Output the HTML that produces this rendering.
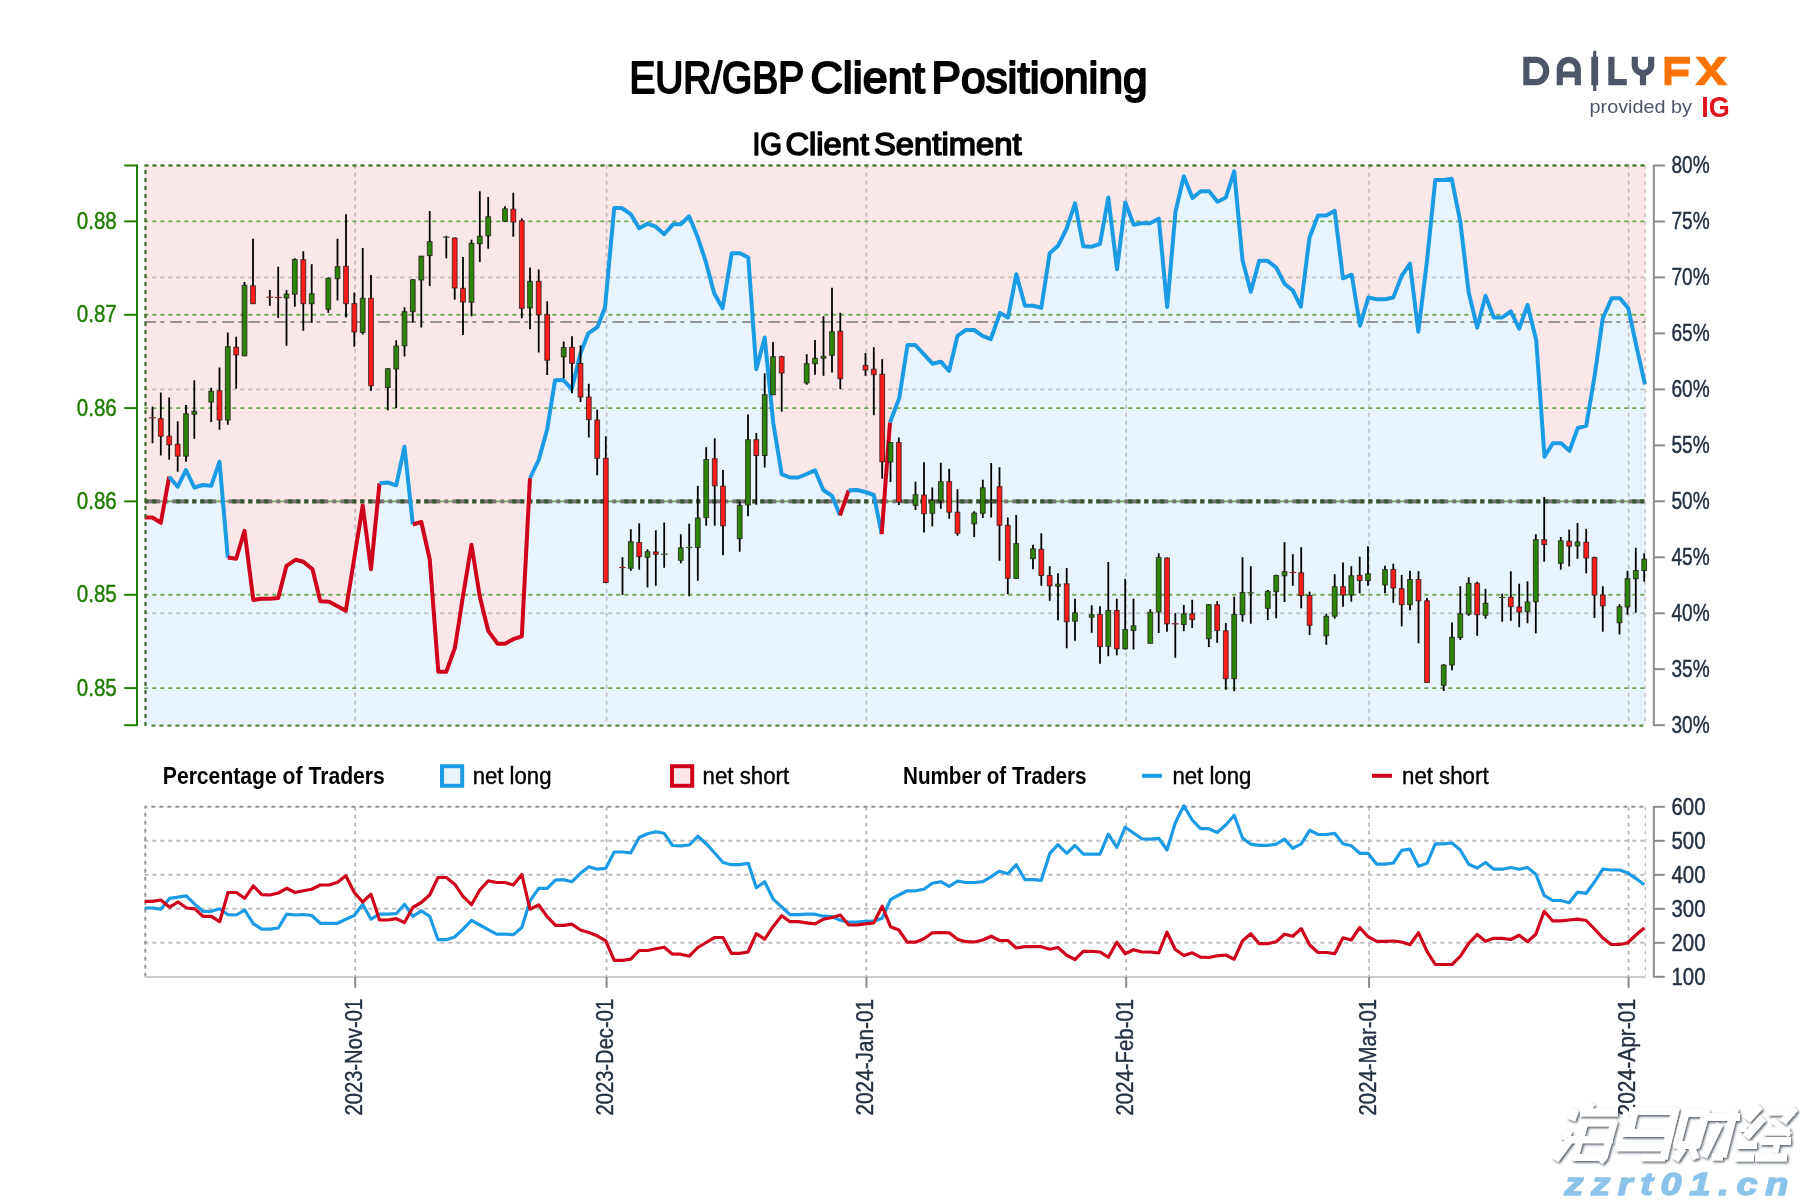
<!DOCTYPE html>
<html><head><meta charset="utf-8"><title>EUR/GBP Client Positioning</title>
<style>html,body{margin:0;padding:0;background:#fff;}body{width:1800px;height:1200px;overflow:hidden;}svg{display:block;will-change:transform;}text{font-family:"Liberation Sans",sans-serif;}</style>
</head><body>
<svg width="1800" height="1200" viewBox="0 0 1800 1200">
<rect width="1800" height="1200" fill="#fff"/>
<text x="629.5" y="93.2" font-size="43.5" fill="#000" stroke="#000" stroke-width="2" stroke-linejoin="round" textLength="174.5" lengthAdjust="spacingAndGlyphs">EUR/GBP</text>
<text x="810.5" y="93.2" font-size="43.5" fill="#000" stroke="#000" stroke-width="2" stroke-linejoin="round" textLength="114.5" lengthAdjust="spacingAndGlyphs">Client</text>
<text x="931.5" y="93.2" font-size="43.5" fill="#000" stroke="#000" stroke-width="2" stroke-linejoin="round" textLength="216" lengthAdjust="spacingAndGlyphs">Positioning</text>
<text x="752.5" y="155.4" font-size="31.3" fill="#000" stroke="#000" stroke-width="1.5" stroke-linejoin="round" textLength="29.5" lengthAdjust="spacingAndGlyphs">IG</text>
<text x="785.5" y="155.4" font-size="31.3" fill="#000" stroke="#000" stroke-width="1.5" stroke-linejoin="round" textLength="83.5" lengthAdjust="spacingAndGlyphs">Client</text>
<text x="874" y="155.4" font-size="31.3" fill="#000" stroke="#000" stroke-width="1.5" stroke-linejoin="round" textLength="147.5" lengthAdjust="spacingAndGlyphs">Sentiment</text>
<rect x="144.3" y="165.5" width="1501.0" height="559.1" fill="#fce7e8"/>
<polygon points="145.3,725.2 144.7,517.5 152.5,517.5 160.8,522.8 169.2,476.7 177.7,486.7 186,470 194.3,487.5 202.7,485 211.2,485.8 219.5,461.7 227.8,557.5 236.2,558.7 244.5,530.8 253.3,600 261.3,598.7 269.8,598.7 278.2,598 286.5,565.8 295.8,559.7 303.3,561.7 312.5,569.2 320.3,601.3 329.2,601.7 337.5,606.2 345.8,610.8 354.3,558 362.7,505.5 371,569.2 379.5,483.3 387.8,482.5 396.2,485.3 404.5,446.7 412.8,524.5 421.3,522 429.7,559.2 438.3,671.7 446.3,671.7 455,647.5 463,596 471.5,544.7 479.8,596.7 488.2,630.8 497.5,643.7 505,643.7 513.3,639.2 521.8,636.3 530,478 538.7,460 547.2,429.2 555,380.3 563.3,380 571.7,389.2 580.5,353.3 588.3,333.3 597.5,327 605,307.5 614.2,208 621.7,208 630.8,214.2 639.2,228.3 647.5,223.7 655.8,226.7 664.2,234.2 673.3,224.2 680.8,224.2 689.2,216.3 697.5,236.7 705.8,261.7 714.2,293.3 722.5,308.3 731.7,253.3 740,253.3 748.3,257.5 756.3,369.2 764.7,337.5 773.3,423.3 781.7,474.2 790,477.5 798.3,477.5 806.7,474 815,470.3 823.3,490 832,495.8 840,515.3 848.7,490.3 857,490 865.5,492 873.8,495 881.7,534.2 890,422.5 899.2,398.3 907.5,345 915.3,345 924,354.3 932.5,363.7 940.8,361.7 949.2,370.8 957.5,335.8 965.8,330 974.2,330 982.5,335.8 990.8,339.2 1000,313 1008,317.5 1016.3,274.2 1025,305.8 1033.3,305.8 1041.3,307.8 1049.7,253.3 1058,245.8 1066.7,228.3 1075,203.3 1083.3,246.3 1091.7,246.7 1100,243.8 1108.3,197.5 1117,269.2 1125.3,202.5 1133.7,224.7 1141.7,223.3 1150,223.3 1158.8,218.7 1167.2,307 1175.5,211.7 1183.8,176.3 1192.5,198 1200.8,191.2 1209.2,191.2 1217.5,201.7 1225.8,197.5 1234.2,171.3 1242.5,260 1250.8,291.7 1259.2,260.8 1267.5,260.8 1276.2,267.5 1284.5,283.7 1292.8,290.5 1300.8,306.7 1309.5,237.5 1318,215.5 1326.3,215.5 1334.7,210.8 1343,278.3 1351.7,274.7 1360,325.8 1368.3,297.5 1376.7,299.2 1385,299.2 1393.3,297.5 1401.7,275.8 1410,263.7 1418.3,331.7 1427,260.8 1435.3,180 1443.7,180 1451.7,178.8 1460.3,221.7 1468.7,292.5 1477.2,327.5 1485.5,295.8 1493.8,317.5 1502.2,317.5 1510.8,311.3 1519.2,328.7 1527.5,305 1536.2,340 1544.5,456.7 1552.8,443.3 1561.2,443.3 1569.5,450.8 1577.8,428 1586.2,425.8 1594.5,376.7 1602.8,318.3 1611.7,298.3 1620,298.3 1628.3,308.3 1636.7,347.5 1645,384.2 1645.3,384.2 1645.3,725.2" fill="#e8f4fd"/>
<line x1="144.3" x2="1645.3" y1="277.4" y2="277.4" stroke="#808080" stroke-width="1.9" stroke-dasharray="4 4" stroke-opacity="0.4"/>
<line x1="144.3" x2="1645.3" y1="389.4" y2="389.4" stroke="#808080" stroke-width="1.9" stroke-dasharray="4 4" stroke-opacity="0.4"/>
<line x1="144.3" x2="1645.3" y1="613.3" y2="613.3" stroke="#808080" stroke-width="1.9" stroke-dasharray="4 4" stroke-opacity="0.4"/>
<line x1="144.3" x2="1645.3" y1="221.4" y2="221.4" stroke="#6ca950" stroke-width="1.9" stroke-dasharray="4 4"/>
<line x1="144.3" x2="1645.3" y1="314.8" y2="314.8" stroke="#6ca950" stroke-width="1.9" stroke-dasharray="4 4"/>
<line x1="144.3" x2="1645.3" y1="408.1" y2="408.1" stroke="#6ca950" stroke-width="1.9" stroke-dasharray="4 4"/>
<line x1="144.3" x2="1645.3" y1="501.4" y2="501.4" stroke="#6ca950" stroke-width="1.9" stroke-dasharray="4 4"/>
<line x1="144.3" x2="1645.3" y1="594.8" y2="594.8" stroke="#6ca950" stroke-width="1.9" stroke-dasharray="4 4"/>
<line x1="144.3" x2="1645.3" y1="688.1" y2="688.1" stroke="#6ca950" stroke-width="1.9" stroke-dasharray="4 4"/>
<line x1="355.2" x2="355.2" y1="164.7" y2="725.2" stroke="#808080" stroke-opacity="0.45" stroke-width="1.7" stroke-dasharray="4 4"/>
<line x1="355.2" x2="355.2" y1="806.8" y2="976.8" stroke="#b6b6b6" stroke-width="1.7" stroke-dasharray="3.6 4.4"/>
<line x1="606.6" x2="606.6" y1="164.7" y2="725.2" stroke="#808080" stroke-opacity="0.45" stroke-width="1.7" stroke-dasharray="4 4"/>
<line x1="606.6" x2="606.6" y1="806.8" y2="976.8" stroke="#b6b6b6" stroke-width="1.7" stroke-dasharray="3.6 4.4"/>
<line x1="866.4" x2="866.4" y1="164.7" y2="725.2" stroke="#808080" stroke-opacity="0.45" stroke-width="1.7" stroke-dasharray="4 4"/>
<line x1="866.4" x2="866.4" y1="806.8" y2="976.8" stroke="#b6b6b6" stroke-width="1.7" stroke-dasharray="3.6 4.4"/>
<line x1="1126.2" x2="1126.2" y1="164.7" y2="725.2" stroke="#808080" stroke-opacity="0.45" stroke-width="1.7" stroke-dasharray="4 4"/>
<line x1="1126.2" x2="1126.2" y1="806.8" y2="976.8" stroke="#b6b6b6" stroke-width="1.7" stroke-dasharray="3.6 4.4"/>
<line x1="1369.1" x2="1369.1" y1="164.7" y2="725.2" stroke="#808080" stroke-opacity="0.45" stroke-width="1.7" stroke-dasharray="4 4"/>
<line x1="1369.1" x2="1369.1" y1="806.8" y2="976.8" stroke="#b6b6b6" stroke-width="1.7" stroke-dasharray="3.6 4.4"/>
<line x1="1628.6" x2="1628.6" y1="164.7" y2="725.2" stroke="#808080" stroke-opacity="0.45" stroke-width="1.7" stroke-dasharray="4 4"/>
<line x1="1628.6" x2="1628.6" y1="806.8" y2="976.8" stroke="#b6b6b6" stroke-width="1.7" stroke-dasharray="3.6 4.4"/>
<line x1="144.3" x2="1645.3" y1="322" y2="322" stroke="#7a7678" stroke-width="1.5" stroke-dasharray="11.7 4.3 4 6"/>
<rect x="144.80" y="499.4" width="15.50" height="4" fill="#7b7375"/>
<rect x="164.30" y="499.4" width="4.00" height="4" fill="#7b7375"/>
<rect x="172.30" y="499.4" width="16.00" height="4" fill="#7b7375"/>
<rect x="192.30" y="499.4" width="4.00" height="4" fill="#7b7375"/>
<rect x="200.30" y="499.4" width="16.00" height="4" fill="#7b7375"/>
<rect x="220.30" y="499.4" width="4.00" height="4" fill="#7b7375"/>
<rect x="228.30" y="499.4" width="16.00" height="4" fill="#7b7375"/>
<rect x="248.30" y="499.4" width="4.00" height="4" fill="#7b7375"/>
<rect x="256.30" y="499.4" width="16.00" height="4" fill="#7b7375"/>
<rect x="276.30" y="499.4" width="4.00" height="4" fill="#7b7375"/>
<rect x="284.30" y="499.4" width="16.00" height="4" fill="#7b7375"/>
<rect x="304.30" y="499.4" width="4.00" height="4" fill="#7b7375"/>
<rect x="312.30" y="499.4" width="16.00" height="4" fill="#7b7375"/>
<rect x="332.30" y="499.4" width="4.00" height="4" fill="#7b7375"/>
<rect x="340.30" y="499.4" width="16.00" height="4" fill="#7b7375"/>
<rect x="360.30" y="499.4" width="4.00" height="4" fill="#7b7375"/>
<rect x="368.30" y="499.4" width="16.00" height="4" fill="#7b7375"/>
<rect x="388.30" y="499.4" width="4.00" height="4" fill="#7b7375"/>
<rect x="396.30" y="499.4" width="16.00" height="4" fill="#7b7375"/>
<rect x="416.30" y="499.4" width="4.00" height="4" fill="#7b7375"/>
<rect x="424.30" y="499.4" width="16.00" height="4" fill="#7b7375"/>
<rect x="444.30" y="499.4" width="4.00" height="4" fill="#7b7375"/>
<rect x="452.30" y="499.4" width="16.00" height="4" fill="#7b7375"/>
<rect x="472.30" y="499.4" width="4.00" height="4" fill="#7b7375"/>
<rect x="480.30" y="499.4" width="16.00" height="4" fill="#7b7375"/>
<rect x="500.30" y="499.4" width="4.00" height="4" fill="#7b7375"/>
<rect x="508.30" y="499.4" width="16.00" height="4" fill="#7b7375"/>
<rect x="528.30" y="499.4" width="4.00" height="4" fill="#7b7375"/>
<rect x="536.30" y="499.4" width="16.00" height="4" fill="#7b7375"/>
<rect x="556.30" y="499.4" width="4.00" height="4" fill="#7b7375"/>
<rect x="564.30" y="499.4" width="16.00" height="4" fill="#7b7375"/>
<rect x="584.30" y="499.4" width="4.00" height="4" fill="#7b7375"/>
<rect x="592.30" y="499.4" width="16.00" height="4" fill="#7b7375"/>
<rect x="612.30" y="499.4" width="4.00" height="4" fill="#7b7375"/>
<rect x="620.30" y="499.4" width="16.00" height="4" fill="#7b7375"/>
<rect x="640.30" y="499.4" width="4.00" height="4" fill="#7b7375"/>
<rect x="648.30" y="499.4" width="16.00" height="4" fill="#7b7375"/>
<rect x="668.30" y="499.4" width="4.00" height="4" fill="#7b7375"/>
<rect x="676.30" y="499.4" width="16.00" height="4" fill="#7b7375"/>
<rect x="696.30" y="499.4" width="4.00" height="4" fill="#7b7375"/>
<rect x="704.30" y="499.4" width="16.00" height="4" fill="#7b7375"/>
<rect x="724.30" y="499.4" width="4.00" height="4" fill="#7b7375"/>
<rect x="732.30" y="499.4" width="16.00" height="4" fill="#7b7375"/>
<rect x="752.30" y="499.4" width="4.00" height="4" fill="#7b7375"/>
<rect x="760.30" y="499.4" width="16.00" height="4" fill="#7b7375"/>
<rect x="780.30" y="499.4" width="4.00" height="4" fill="#7b7375"/>
<rect x="788.30" y="499.4" width="16.00" height="4" fill="#7b7375"/>
<rect x="808.30" y="499.4" width="4.00" height="4" fill="#7b7375"/>
<rect x="816.30" y="499.4" width="16.00" height="4" fill="#7b7375"/>
<rect x="836.30" y="499.4" width="4.00" height="4" fill="#7b7375"/>
<rect x="844.30" y="499.4" width="16.00" height="4" fill="#7b7375"/>
<rect x="864.30" y="499.4" width="4.00" height="4" fill="#7b7375"/>
<rect x="872.30" y="499.4" width="16.00" height="4" fill="#7b7375"/>
<rect x="892.30" y="499.4" width="4.00" height="4" fill="#7b7375"/>
<rect x="900.30" y="499.4" width="16.00" height="4" fill="#7b7375"/>
<rect x="920.30" y="499.4" width="4.00" height="4" fill="#7b7375"/>
<rect x="928.30" y="499.4" width="16.00" height="4" fill="#7b7375"/>
<rect x="948.30" y="499.4" width="4.00" height="4" fill="#7b7375"/>
<rect x="956.30" y="499.4" width="16.00" height="4" fill="#7b7375"/>
<rect x="976.30" y="499.4" width="4.00" height="4" fill="#7b7375"/>
<rect x="984.30" y="499.4" width="16.00" height="4" fill="#7b7375"/>
<rect x="1004.30" y="499.4" width="4.00" height="4" fill="#7b7375"/>
<rect x="1012.30" y="499.4" width="16.00" height="4" fill="#7b7375"/>
<rect x="1032.30" y="499.4" width="4.00" height="4" fill="#7b7375"/>
<rect x="1040.30" y="499.4" width="16.00" height="4" fill="#7b7375"/>
<rect x="1060.30" y="499.4" width="4.00" height="4" fill="#7b7375"/>
<rect x="1068.30" y="499.4" width="16.00" height="4" fill="#7b7375"/>
<rect x="1088.30" y="499.4" width="4.00" height="4" fill="#7b7375"/>
<rect x="1096.30" y="499.4" width="16.00" height="4" fill="#7b7375"/>
<rect x="1116.30" y="499.4" width="4.00" height="4" fill="#7b7375"/>
<rect x="1124.30" y="499.4" width="16.00" height="4" fill="#7b7375"/>
<rect x="1144.30" y="499.4" width="4.00" height="4" fill="#7b7375"/>
<rect x="1152.30" y="499.4" width="16.00" height="4" fill="#7b7375"/>
<rect x="1172.30" y="499.4" width="4.00" height="4" fill="#7b7375"/>
<rect x="1180.30" y="499.4" width="16.00" height="4" fill="#7b7375"/>
<rect x="1200.30" y="499.4" width="4.00" height="4" fill="#7b7375"/>
<rect x="1208.30" y="499.4" width="16.00" height="4" fill="#7b7375"/>
<rect x="1228.30" y="499.4" width="4.00" height="4" fill="#7b7375"/>
<rect x="1236.30" y="499.4" width="16.00" height="4" fill="#7b7375"/>
<rect x="1256.30" y="499.4" width="4.00" height="4" fill="#7b7375"/>
<rect x="1264.30" y="499.4" width="16.00" height="4" fill="#7b7375"/>
<rect x="1284.30" y="499.4" width="4.00" height="4" fill="#7b7375"/>
<rect x="1292.30" y="499.4" width="16.00" height="4" fill="#7b7375"/>
<rect x="1312.30" y="499.4" width="4.00" height="4" fill="#7b7375"/>
<rect x="1320.30" y="499.4" width="16.00" height="4" fill="#7b7375"/>
<rect x="1340.30" y="499.4" width="4.00" height="4" fill="#7b7375"/>
<rect x="1348.30" y="499.4" width="16.00" height="4" fill="#7b7375"/>
<rect x="1368.30" y="499.4" width="4.00" height="4" fill="#7b7375"/>
<rect x="1376.30" y="499.4" width="16.00" height="4" fill="#7b7375"/>
<rect x="1396.30" y="499.4" width="4.00" height="4" fill="#7b7375"/>
<rect x="1404.30" y="499.4" width="16.00" height="4" fill="#7b7375"/>
<rect x="1424.30" y="499.4" width="4.00" height="4" fill="#7b7375"/>
<rect x="1432.30" y="499.4" width="16.00" height="4" fill="#7b7375"/>
<rect x="1452.30" y="499.4" width="4.00" height="4" fill="#7b7375"/>
<rect x="1460.30" y="499.4" width="16.00" height="4" fill="#7b7375"/>
<rect x="1480.30" y="499.4" width="4.00" height="4" fill="#7b7375"/>
<rect x="1488.30" y="499.4" width="16.00" height="4" fill="#7b7375"/>
<rect x="1508.30" y="499.4" width="4.00" height="4" fill="#7b7375"/>
<rect x="1516.30" y="499.4" width="16.00" height="4" fill="#7b7375"/>
<rect x="1536.30" y="499.4" width="4.00" height="4" fill="#7b7375"/>
<rect x="1544.30" y="499.4" width="16.00" height="4" fill="#7b7375"/>
<rect x="1564.30" y="499.4" width="4.00" height="4" fill="#7b7375"/>
<rect x="1572.30" y="499.4" width="16.00" height="4" fill="#7b7375"/>
<rect x="1592.30" y="499.4" width="4.00" height="4" fill="#7b7375"/>
<rect x="1600.30" y="499.4" width="16.00" height="4" fill="#7b7375"/>
<rect x="1620.30" y="499.4" width="4.00" height="4" fill="#7b7375"/>
<rect x="1628.30" y="499.4" width="16.00" height="4" fill="#7b7375"/>
<rect x="144.80" y="499.4" width="3.50" height="4" fill="#35582f"/>
<rect x="152.30" y="499.4" width="4.00" height="4" fill="#35582f"/>
<rect x="176.30" y="499.4" width="4.00" height="4" fill="#35582f"/>
<rect x="184.30" y="499.4" width="4.00" height="4" fill="#35582f"/>
<rect x="192.30" y="499.4" width="4.00" height="4" fill="#35582f"/>
<rect x="200.30" y="499.4" width="4.00" height="4" fill="#35582f"/>
<rect x="208.30" y="499.4" width="4.00" height="4" fill="#35582f"/>
<rect x="232.30" y="499.4" width="4.00" height="4" fill="#35582f"/>
<rect x="240.30" y="499.4" width="4.00" height="4" fill="#35582f"/>
<rect x="248.30" y="499.4" width="4.00" height="4" fill="#35582f"/>
<rect x="256.30" y="499.4" width="4.00" height="4" fill="#35582f"/>
<rect x="264.30" y="499.4" width="4.00" height="4" fill="#35582f"/>
<rect x="288.30" y="499.4" width="4.00" height="4" fill="#35582f"/>
<rect x="296.30" y="499.4" width="4.00" height="4" fill="#35582f"/>
<rect x="304.30" y="499.4" width="4.00" height="4" fill="#35582f"/>
<rect x="312.30" y="499.4" width="4.00" height="4" fill="#35582f"/>
<rect x="320.30" y="499.4" width="4.00" height="4" fill="#35582f"/>
<rect x="344.30" y="499.4" width="4.00" height="4" fill="#35582f"/>
<rect x="352.30" y="499.4" width="4.00" height="4" fill="#35582f"/>
<rect x="360.30" y="499.4" width="4.00" height="4" fill="#35582f"/>
<rect x="368.30" y="499.4" width="4.00" height="4" fill="#35582f"/>
<rect x="376.30" y="499.4" width="4.00" height="4" fill="#35582f"/>
<rect x="400.30" y="499.4" width="4.00" height="4" fill="#35582f"/>
<rect x="408.30" y="499.4" width="4.00" height="4" fill="#35582f"/>
<rect x="416.30" y="499.4" width="4.00" height="4" fill="#35582f"/>
<rect x="424.30" y="499.4" width="4.00" height="4" fill="#35582f"/>
<rect x="432.30" y="499.4" width="4.00" height="4" fill="#35582f"/>
<rect x="456.30" y="499.4" width="4.00" height="4" fill="#35582f"/>
<rect x="464.30" y="499.4" width="4.00" height="4" fill="#35582f"/>
<rect x="472.30" y="499.4" width="4.00" height="4" fill="#35582f"/>
<rect x="480.30" y="499.4" width="4.00" height="4" fill="#35582f"/>
<rect x="488.30" y="499.4" width="4.00" height="4" fill="#35582f"/>
<rect x="512.30" y="499.4" width="4.00" height="4" fill="#35582f"/>
<rect x="520.30" y="499.4" width="4.00" height="4" fill="#35582f"/>
<rect x="528.30" y="499.4" width="4.00" height="4" fill="#35582f"/>
<rect x="536.30" y="499.4" width="4.00" height="4" fill="#35582f"/>
<rect x="544.30" y="499.4" width="4.00" height="4" fill="#35582f"/>
<rect x="568.30" y="499.4" width="4.00" height="4" fill="#35582f"/>
<rect x="576.30" y="499.4" width="4.00" height="4" fill="#35582f"/>
<rect x="584.30" y="499.4" width="4.00" height="4" fill="#35582f"/>
<rect x="592.30" y="499.4" width="4.00" height="4" fill="#35582f"/>
<rect x="600.30" y="499.4" width="4.00" height="4" fill="#35582f"/>
<rect x="624.30" y="499.4" width="4.00" height="4" fill="#35582f"/>
<rect x="632.30" y="499.4" width="4.00" height="4" fill="#35582f"/>
<rect x="640.30" y="499.4" width="4.00" height="4" fill="#35582f"/>
<rect x="648.30" y="499.4" width="4.00" height="4" fill="#35582f"/>
<rect x="656.30" y="499.4" width="4.00" height="4" fill="#35582f"/>
<rect x="680.30" y="499.4" width="4.00" height="4" fill="#35582f"/>
<rect x="688.30" y="499.4" width="4.00" height="4" fill="#35582f"/>
<rect x="696.30" y="499.4" width="4.00" height="4" fill="#35582f"/>
<rect x="704.30" y="499.4" width="4.00" height="4" fill="#35582f"/>
<rect x="712.30" y="499.4" width="4.00" height="4" fill="#35582f"/>
<rect x="736.30" y="499.4" width="4.00" height="4" fill="#35582f"/>
<rect x="744.30" y="499.4" width="4.00" height="4" fill="#35582f"/>
<rect x="752.30" y="499.4" width="4.00" height="4" fill="#35582f"/>
<rect x="760.30" y="499.4" width="4.00" height="4" fill="#35582f"/>
<rect x="768.30" y="499.4" width="4.00" height="4" fill="#35582f"/>
<rect x="792.30" y="499.4" width="4.00" height="4" fill="#35582f"/>
<rect x="800.30" y="499.4" width="4.00" height="4" fill="#35582f"/>
<rect x="808.30" y="499.4" width="4.00" height="4" fill="#35582f"/>
<rect x="816.30" y="499.4" width="4.00" height="4" fill="#35582f"/>
<rect x="824.30" y="499.4" width="4.00" height="4" fill="#35582f"/>
<rect x="848.30" y="499.4" width="4.00" height="4" fill="#35582f"/>
<rect x="856.30" y="499.4" width="4.00" height="4" fill="#35582f"/>
<rect x="864.30" y="499.4" width="4.00" height="4" fill="#35582f"/>
<rect x="872.30" y="499.4" width="4.00" height="4" fill="#35582f"/>
<rect x="880.30" y="499.4" width="4.00" height="4" fill="#35582f"/>
<rect x="904.30" y="499.4" width="4.00" height="4" fill="#35582f"/>
<rect x="912.30" y="499.4" width="4.00" height="4" fill="#35582f"/>
<rect x="920.30" y="499.4" width="4.00" height="4" fill="#35582f"/>
<rect x="928.30" y="499.4" width="4.00" height="4" fill="#35582f"/>
<rect x="936.30" y="499.4" width="4.00" height="4" fill="#35582f"/>
<rect x="960.30" y="499.4" width="4.00" height="4" fill="#35582f"/>
<rect x="968.30" y="499.4" width="4.00" height="4" fill="#35582f"/>
<rect x="976.30" y="499.4" width="4.00" height="4" fill="#35582f"/>
<rect x="984.30" y="499.4" width="4.00" height="4" fill="#35582f"/>
<rect x="992.30" y="499.4" width="4.00" height="4" fill="#35582f"/>
<rect x="1016.30" y="499.4" width="4.00" height="4" fill="#35582f"/>
<rect x="1024.30" y="499.4" width="4.00" height="4" fill="#35582f"/>
<rect x="1032.30" y="499.4" width="4.00" height="4" fill="#35582f"/>
<rect x="1040.30" y="499.4" width="4.00" height="4" fill="#35582f"/>
<rect x="1048.30" y="499.4" width="4.00" height="4" fill="#35582f"/>
<rect x="1072.30" y="499.4" width="4.00" height="4" fill="#35582f"/>
<rect x="1080.30" y="499.4" width="4.00" height="4" fill="#35582f"/>
<rect x="1088.30" y="499.4" width="4.00" height="4" fill="#35582f"/>
<rect x="1096.30" y="499.4" width="4.00" height="4" fill="#35582f"/>
<rect x="1104.30" y="499.4" width="4.00" height="4" fill="#35582f"/>
<rect x="1128.30" y="499.4" width="4.00" height="4" fill="#35582f"/>
<rect x="1136.30" y="499.4" width="4.00" height="4" fill="#35582f"/>
<rect x="1144.30" y="499.4" width="4.00" height="4" fill="#35582f"/>
<rect x="1152.30" y="499.4" width="4.00" height="4" fill="#35582f"/>
<rect x="1160.30" y="499.4" width="4.00" height="4" fill="#35582f"/>
<rect x="1184.30" y="499.4" width="4.00" height="4" fill="#35582f"/>
<rect x="1192.30" y="499.4" width="4.00" height="4" fill="#35582f"/>
<rect x="1200.30" y="499.4" width="4.00" height="4" fill="#35582f"/>
<rect x="1208.30" y="499.4" width="4.00" height="4" fill="#35582f"/>
<rect x="1216.30" y="499.4" width="4.00" height="4" fill="#35582f"/>
<rect x="1240.30" y="499.4" width="4.00" height="4" fill="#35582f"/>
<rect x="1248.30" y="499.4" width="4.00" height="4" fill="#35582f"/>
<rect x="1256.30" y="499.4" width="4.00" height="4" fill="#35582f"/>
<rect x="1264.30" y="499.4" width="4.00" height="4" fill="#35582f"/>
<rect x="1272.30" y="499.4" width="4.00" height="4" fill="#35582f"/>
<rect x="1296.30" y="499.4" width="4.00" height="4" fill="#35582f"/>
<rect x="1304.30" y="499.4" width="4.00" height="4" fill="#35582f"/>
<rect x="1312.30" y="499.4" width="4.00" height="4" fill="#35582f"/>
<rect x="1320.30" y="499.4" width="4.00" height="4" fill="#35582f"/>
<rect x="1328.30" y="499.4" width="4.00" height="4" fill="#35582f"/>
<rect x="1352.30" y="499.4" width="4.00" height="4" fill="#35582f"/>
<rect x="1360.30" y="499.4" width="4.00" height="4" fill="#35582f"/>
<rect x="1368.30" y="499.4" width="4.00" height="4" fill="#35582f"/>
<rect x="1376.30" y="499.4" width="4.00" height="4" fill="#35582f"/>
<rect x="1384.30" y="499.4" width="4.00" height="4" fill="#35582f"/>
<rect x="1408.30" y="499.4" width="4.00" height="4" fill="#35582f"/>
<rect x="1416.30" y="499.4" width="4.00" height="4" fill="#35582f"/>
<rect x="1424.30" y="499.4" width="4.00" height="4" fill="#35582f"/>
<rect x="1432.30" y="499.4" width="4.00" height="4" fill="#35582f"/>
<rect x="1440.30" y="499.4" width="4.00" height="4" fill="#35582f"/>
<rect x="1464.30" y="499.4" width="4.00" height="4" fill="#35582f"/>
<rect x="1472.30" y="499.4" width="4.00" height="4" fill="#35582f"/>
<rect x="1480.30" y="499.4" width="4.00" height="4" fill="#35582f"/>
<rect x="1488.30" y="499.4" width="4.00" height="4" fill="#35582f"/>
<rect x="1496.30" y="499.4" width="4.00" height="4" fill="#35582f"/>
<rect x="1520.30" y="499.4" width="4.00" height="4" fill="#35582f"/>
<rect x="1528.30" y="499.4" width="4.00" height="4" fill="#35582f"/>
<rect x="1536.30" y="499.4" width="4.00" height="4" fill="#35582f"/>
<rect x="1544.30" y="499.4" width="4.00" height="4" fill="#35582f"/>
<rect x="1552.30" y="499.4" width="4.00" height="4" fill="#35582f"/>
<rect x="1576.30" y="499.4" width="4.00" height="4" fill="#35582f"/>
<rect x="1584.30" y="499.4" width="4.00" height="4" fill="#35582f"/>
<rect x="1592.30" y="499.4" width="4.00" height="4" fill="#35582f"/>
<rect x="1600.30" y="499.4" width="4.00" height="4" fill="#35582f"/>
<rect x="1608.30" y="499.4" width="4.00" height="4" fill="#35582f"/>
<rect x="1632.30" y="499.4" width="4.00" height="4" fill="#35582f"/>
<rect x="1640.30" y="499.4" width="4.00" height="4" fill="#35582f"/>
<polyline points="144.7,517.5 152.5,517.5 160.8,522.8 169.2,476.7" fill="none" stroke="#d0021b" stroke-width="4" stroke-linejoin="round" stroke-linecap="butt"/>
<polyline points="169.2,476.7 177.7,486.7 186,470 194.3,487.5 202.7,485 211.2,485.8 219.5,461.7 227.8,557.5" fill="none" stroke="#1b9be4" stroke-width="4" stroke-linejoin="round" stroke-linecap="butt"/>
<polyline points="227.8,557.5 236.2,558.7 244.5,530.8 253.3,600 261.3,598.7 269.8,598.7 278.2,598 286.5,565.8 295.8,559.7 303.3,561.7 312.5,569.2 320.3,601.3 329.2,601.7 337.5,606.2 345.8,610.8 354.3,558 362.7,505.5 371,569.2 379.5,483.3" fill="none" stroke="#d0021b" stroke-width="4" stroke-linejoin="round" stroke-linecap="butt"/>
<polyline points="379.5,483.3 387.8,482.5 396.2,485.3 404.5,446.7 412.8,524.5" fill="none" stroke="#1b9be4" stroke-width="4" stroke-linejoin="round" stroke-linecap="butt"/>
<polyline points="412.8,524.5 421.3,522 429.7,559.2 438.3,671.7 446.3,671.7 455,647.5 463,596 471.5,544.7 479.8,596.7 488.2,630.8 497.5,643.7 505,643.7 513.3,639.2 521.8,636.3 530,478" fill="none" stroke="#d0021b" stroke-width="4" stroke-linejoin="round" stroke-linecap="butt"/>
<polyline points="530,478 538.7,460 547.2,429.2 555,380.3 563.3,380 571.7,389.2 580.5,353.3 588.3,333.3 597.5,327 605,307.5 614.2,208 621.7,208 630.8,214.2 639.2,228.3 647.5,223.7 655.8,226.7 664.2,234.2 673.3,224.2 680.8,224.2 689.2,216.3 697.5,236.7 705.8,261.7 714.2,293.3 722.5,308.3 731.7,253.3 740,253.3 748.3,257.5 756.3,369.2 764.7,337.5 773.3,423.3 781.7,474.2 790,477.5 798.3,477.5 806.7,474 815,470.3 823.3,490 832,495.8 840,515.3" fill="none" stroke="#1b9be4" stroke-width="4" stroke-linejoin="round" stroke-linecap="butt"/>
<polyline points="840,515.3 848.7,490.3" fill="none" stroke="#d0021b" stroke-width="4" stroke-linejoin="round" stroke-linecap="butt"/>
<polyline points="848.7,490.3 857,490 865.5,492 873.8,495 881.7,534.2" fill="none" stroke="#1b9be4" stroke-width="4" stroke-linejoin="round" stroke-linecap="butt"/>
<polyline points="881.7,534.2 890,422.5" fill="none" stroke="#d0021b" stroke-width="4" stroke-linejoin="round" stroke-linecap="butt"/>
<polyline points="890,422.5 899.2,398.3 907.5,345 915.3,345 924,354.3 932.5,363.7 940.8,361.7 949.2,370.8 957.5,335.8 965.8,330 974.2,330 982.5,335.8 990.8,339.2 1000,313 1008,317.5 1016.3,274.2 1025,305.8 1033.3,305.8 1041.3,307.8 1049.7,253.3 1058,245.8 1066.7,228.3 1075,203.3 1083.3,246.3 1091.7,246.7 1100,243.8 1108.3,197.5 1117,269.2 1125.3,202.5 1133.7,224.7 1141.7,223.3 1150,223.3 1158.8,218.7 1167.2,307 1175.5,211.7 1183.8,176.3 1192.5,198 1200.8,191.2 1209.2,191.2 1217.5,201.7 1225.8,197.5 1234.2,171.3 1242.5,260 1250.8,291.7 1259.2,260.8 1267.5,260.8 1276.2,267.5 1284.5,283.7 1292.8,290.5 1300.8,306.7 1309.5,237.5 1318,215.5 1326.3,215.5 1334.7,210.8 1343,278.3 1351.7,274.7 1360,325.8 1368.3,297.5 1376.7,299.2 1385,299.2 1393.3,297.5 1401.7,275.8 1410,263.7 1418.3,331.7 1427,260.8 1435.3,180 1443.7,180 1451.7,178.8 1460.3,221.7 1468.7,292.5 1477.2,327.5 1485.5,295.8 1493.8,317.5 1502.2,317.5 1510.8,311.3 1519.2,328.7 1527.5,305 1536.2,340 1544.5,456.7 1552.8,443.3 1561.2,443.3 1569.5,450.8 1577.8,428 1586.2,425.8 1594.5,376.7 1602.8,318.3 1611.7,298.3 1620,298.3 1628.3,308.3 1636.7,347.5 1645,384.2" fill="none" stroke="#1b9be4" stroke-width="4" stroke-linejoin="round" stroke-linecap="butt"/>
<line x1="1645.3" x2="1645.3" y1="165.5" y2="725.2" stroke="#808080" stroke-opacity="0.45" stroke-width="1.5" stroke-dasharray="3.6 4.4"/>
<line x1="152.5" x2="152.5" y1="406.7" y2="443.3" stroke="#000" stroke-width="1.8"/>
<line x1="149.1" x2="155.9" y1="417.8" y2="417.8" stroke="#8a2a2a" stroke-width="1.2"/>
<line x1="160.8" x2="160.8" y1="392.5" y2="455.5" stroke="#000" stroke-width="1.8"/>
<rect x="158.4" y="418.7" width="4.8" height="17.5" fill="#ff1c1c" stroke="#1c1410" stroke-opacity="0.72" stroke-width="1"/>
<line x1="169.2" x2="169.2" y1="397.5" y2="459.7" stroke="#000" stroke-width="1.8"/>
<rect x="166.8" y="436.2" width="4.8" height="8.5" fill="#ff1c1c" stroke="#1c1410" stroke-opacity="0.72" stroke-width="1"/>
<line x1="177.7" x2="177.7" y1="421.3" y2="471.7" stroke="#000" stroke-width="1.8"/>
<rect x="175.3" y="444.2" width="4.8" height="12.0" fill="#ff1c1c" stroke="#1c1410" stroke-opacity="0.72" stroke-width="1"/>
<line x1="186" x2="186" y1="405" y2="461.7" stroke="#000" stroke-width="1.8"/>
<rect x="183.6" y="413.8" width="4.8" height="42.4" fill="#2c8408" stroke="#1c1410" stroke-opacity="0.72" stroke-width="1"/>
<line x1="194.3" x2="194.3" y1="380.3" y2="438.8" stroke="#000" stroke-width="1.8"/>
<rect x="191.9" y="411.3" width="4.8" height="2.9" fill="#2c8408" stroke="#1c1410" stroke-opacity="0.72" stroke-width="1"/>
<line x1="211.2" x2="211.2" y1="387.8" y2="422" stroke="#000" stroke-width="1.8"/>
<rect x="208.8" y="391.2" width="4.8" height="10.8" fill="#2c8408" stroke="#1c1410" stroke-opacity="0.72" stroke-width="1"/>
<line x1="219.5" x2="219.5" y1="367.5" y2="429.7" stroke="#000" stroke-width="1.8"/>
<rect x="217.1" y="390.8" width="4.8" height="29.2" fill="#ff1c1c" stroke="#1c1410" stroke-opacity="0.72" stroke-width="1"/>
<line x1="227.8" x2="227.8" y1="332.5" y2="424.7" stroke="#000" stroke-width="1.8"/>
<rect x="225.4" y="346.7" width="4.8" height="73.3" fill="#2c8408" stroke="#1c1410" stroke-opacity="0.72" stroke-width="1"/>
<line x1="236.2" x2="236.2" y1="336.7" y2="388.7" stroke="#000" stroke-width="1.8"/>
<rect x="233.8" y="347.2" width="4.8" height="7.8" fill="#ff1c1c" stroke="#1c1410" stroke-opacity="0.72" stroke-width="1"/>
<line x1="244.5" x2="244.5" y1="282" y2="356.3" stroke="#000" stroke-width="1.8"/>
<rect x="242.1" y="285.3" width="4.8" height="70.5" fill="#2c8408" stroke="#1c1410" stroke-opacity="0.72" stroke-width="1"/>
<line x1="253" x2="253" y1="238.7" y2="303.7" stroke="#000" stroke-width="1.8"/>
<rect x="250.6" y="285.8" width="4.8" height="17.9" fill="#ff1c1c" stroke="#1c1410" stroke-opacity="0.72" stroke-width="1"/>
<line x1="269.8" x2="269.8" y1="290" y2="305.8" stroke="#000" stroke-width="1.8"/>
<line x1="266.40000000000003" x2="273.2" y1="297.2" y2="297.2" stroke="#8a2a2a" stroke-width="1.2"/>
<line x1="278.2" x2="278.2" y1="266.7" y2="318" stroke="#000" stroke-width="1.8"/>
<line x1="274.8" x2="281.59999999999997" y1="297.5" y2="297.5" stroke="#8a2a2a" stroke-width="1.2"/>
<line x1="286.5" x2="286.5" y1="290" y2="345.8" stroke="#000" stroke-width="1.8"/>
<rect x="284.1" y="294.2" width="4.8" height="3.8" fill="#2c8408" stroke="#1c1410" stroke-opacity="0.72" stroke-width="1"/>
<line x1="294.8" x2="294.8" y1="258.3" y2="306.7" stroke="#000" stroke-width="1.8"/>
<rect x="292.4" y="259.5" width="4.8" height="34.7" fill="#2c8408" stroke="#1c1410" stroke-opacity="0.72" stroke-width="1"/>
<line x1="303.3" x2="303.3" y1="251.3" y2="330.8" stroke="#000" stroke-width="1.8"/>
<rect x="300.9" y="259.7" width="4.8" height="44.0" fill="#ff1c1c" stroke="#1c1410" stroke-opacity="0.72" stroke-width="1"/>
<line x1="311.7" x2="311.7" y1="264.2" y2="322.8" stroke="#000" stroke-width="1.8"/>
<rect x="309.3" y="293.8" width="4.8" height="9.9" fill="#2c8408" stroke="#1c1410" stroke-opacity="0.72" stroke-width="1"/>
<line x1="328.3" x2="328.3" y1="277.5" y2="312.8" stroke="#000" stroke-width="1.8"/>
<rect x="325.9" y="278.3" width="4.8" height="30.9" fill="#2c8408" stroke="#1c1410" stroke-opacity="0.72" stroke-width="1"/>
<line x1="337.5" x2="337.5" y1="238.7" y2="300.5" stroke="#000" stroke-width="1.8"/>
<rect x="335.1" y="266.7" width="4.8" height="12.0" fill="#2c8408" stroke="#1c1410" stroke-opacity="0.72" stroke-width="1"/>
<line x1="346" x2="346" y1="214.2" y2="317.5" stroke="#000" stroke-width="1.8"/>
<rect x="343.6" y="266.3" width="4.8" height="37.4" fill="#ff1c1c" stroke="#1c1410" stroke-opacity="0.72" stroke-width="1"/>
<line x1="354.3" x2="354.3" y1="292.5" y2="346.7" stroke="#000" stroke-width="1.8"/>
<rect x="351.9" y="303.7" width="4.8" height="28.3" fill="#ff1c1c" stroke="#1c1410" stroke-opacity="0.72" stroke-width="1"/>
<line x1="362.7" x2="362.7" y1="248" y2="334.5" stroke="#000" stroke-width="1.8"/>
<rect x="360.3" y="298.3" width="4.8" height="34.2" fill="#2c8408" stroke="#1c1410" stroke-opacity="0.72" stroke-width="1"/>
<line x1="371" x2="371" y1="275" y2="390.8" stroke="#000" stroke-width="1.8"/>
<rect x="368.6" y="298.3" width="4.8" height="87.5" fill="#ff1c1c" stroke="#1c1410" stroke-opacity="0.72" stroke-width="1"/>
<line x1="387.8" x2="387.8" y1="368.3" y2="410.3" stroke="#000" stroke-width="1.8"/>
<rect x="385.4" y="368.7" width="4.8" height="18.8" fill="#2c8408" stroke="#1c1410" stroke-opacity="0.72" stroke-width="1"/>
<line x1="396.2" x2="396.2" y1="340.3" y2="408" stroke="#000" stroke-width="1.8"/>
<rect x="393.8" y="346" width="4.8" height="23.0" fill="#2c8408" stroke="#1c1410" stroke-opacity="0.72" stroke-width="1"/>
<line x1="404.5" x2="404.5" y1="307.2" y2="356.5" stroke="#000" stroke-width="1.8"/>
<rect x="402.1" y="311.7" width="4.8" height="34.1" fill="#2c8408" stroke="#1c1410" stroke-opacity="0.72" stroke-width="1"/>
<line x1="412.8" x2="412.8" y1="279.2" y2="322.5" stroke="#000" stroke-width="1.8"/>
<rect x="410.4" y="279.7" width="4.8" height="32.0" fill="#2c8408" stroke="#1c1410" stroke-opacity="0.72" stroke-width="1"/>
<line x1="421.3" x2="421.3" y1="255.8" y2="327.5" stroke="#000" stroke-width="1.8"/>
<rect x="418.9" y="256.2" width="4.8" height="23.8" fill="#2c8408" stroke="#1c1410" stroke-opacity="0.72" stroke-width="1"/>
<line x1="429.7" x2="429.7" y1="211" y2="286" stroke="#000" stroke-width="1.8"/>
<rect x="427.3" y="241.7" width="4.8" height="13.9" fill="#2c8408" stroke="#1c1410" stroke-opacity="0.72" stroke-width="1"/>
<line x1="446.3" x2="446.3" y1="235.8" y2="258.3" stroke="#000" stroke-width="1.8"/>
<line x1="442.90000000000003" x2="449.7" y1="237.2" y2="237.2" stroke="#3a5a2a" stroke-width="1.2"/>
<line x1="454.7" x2="454.7" y1="237.5" y2="299.7" stroke="#000" stroke-width="1.8"/>
<rect x="452.3" y="238" width="4.8" height="50.0" fill="#ff1c1c" stroke="#1c1410" stroke-opacity="0.72" stroke-width="1"/>
<line x1="463" x2="463" y1="257" y2="335" stroke="#000" stroke-width="1.8"/>
<rect x="460.6" y="288.3" width="4.8" height="13.7" fill="#ff1c1c" stroke="#1c1410" stroke-opacity="0.72" stroke-width="1"/>
<line x1="471.5" x2="471.5" y1="239.7" y2="316.3" stroke="#000" stroke-width="1.8"/>
<rect x="469.1" y="243.3" width="4.8" height="58.9" fill="#2c8408" stroke="#1c1410" stroke-opacity="0.72" stroke-width="1"/>
<line x1="479.8" x2="479.8" y1="191.3" y2="262" stroke="#000" stroke-width="1.8"/>
<rect x="477.4" y="236.3" width="4.8" height="7.4" fill="#2c8408" stroke="#1c1410" stroke-opacity="0.72" stroke-width="1"/>
<line x1="488.2" x2="488.2" y1="197" y2="248.7" stroke="#000" stroke-width="1.8"/>
<rect x="485.8" y="216.7" width="4.8" height="19.1" fill="#2c8408" stroke="#1c1410" stroke-opacity="0.72" stroke-width="1"/>
<line x1="505" x2="505" y1="206.3" y2="221.7" stroke="#000" stroke-width="1.8"/>
<rect x="502.6" y="208.8" width="4.8" height="12.5" fill="#2c8408" stroke="#1c1410" stroke-opacity="0.72" stroke-width="1"/>
<line x1="513.3" x2="513.3" y1="192.8" y2="236.7" stroke="#000" stroke-width="1.8"/>
<rect x="510.9" y="209.2" width="4.8" height="12.8" fill="#ff1c1c" stroke="#1c1410" stroke-opacity="0.72" stroke-width="1"/>
<line x1="521.8" x2="521.8" y1="218.3" y2="318.3" stroke="#000" stroke-width="1.8"/>
<rect x="519.4" y="220.8" width="4.8" height="87.5" fill="#ff1c1c" stroke="#1c1410" stroke-opacity="0.72" stroke-width="1"/>
<line x1="530" x2="530" y1="267.5" y2="329.2" stroke="#000" stroke-width="1.8"/>
<rect x="527.6" y="281.3" width="4.8" height="26.7" fill="#2c8408" stroke="#1c1410" stroke-opacity="0.72" stroke-width="1"/>
<line x1="538.7" x2="538.7" y1="269.5" y2="352.5" stroke="#000" stroke-width="1.8"/>
<rect x="536.3" y="281.3" width="4.8" height="33.4" fill="#ff1c1c" stroke="#1c1410" stroke-opacity="0.72" stroke-width="1"/>
<line x1="547.2" x2="547.2" y1="301.3" y2="375" stroke="#000" stroke-width="1.8"/>
<rect x="544.8" y="314.7" width="4.8" height="45.5" fill="#ff1c1c" stroke="#1c1410" stroke-opacity="0.72" stroke-width="1"/>
<line x1="563.7" x2="563.7" y1="341.5" y2="378.3" stroke="#000" stroke-width="1.8"/>
<rect x="561.3" y="347.5" width="4.8" height="9.3" fill="#2c8408" stroke="#1c1410" stroke-opacity="0.72" stroke-width="1"/>
<line x1="572" x2="572" y1="336.3" y2="393.3" stroke="#000" stroke-width="1.8"/>
<rect x="569.6" y="347.3" width="4.8" height="16.0" fill="#ff1c1c" stroke="#1c1410" stroke-opacity="0.72" stroke-width="1"/>
<line x1="580.5" x2="580.5" y1="345.5" y2="402" stroke="#000" stroke-width="1.8"/>
<rect x="578.1" y="363.5" width="4.8" height="33.5" fill="#ff1c1c" stroke="#1c1410" stroke-opacity="0.72" stroke-width="1"/>
<line x1="588.8" x2="588.8" y1="383.8" y2="437.5" stroke="#000" stroke-width="1.8"/>
<rect x="586.4" y="397" width="4.8" height="22.7" fill="#ff1c1c" stroke="#1c1410" stroke-opacity="0.72" stroke-width="1"/>
<line x1="597.2" x2="597.2" y1="409.7" y2="475.3" stroke="#000" stroke-width="1.8"/>
<rect x="594.8" y="420" width="4.8" height="38.3" fill="#ff1c1c" stroke="#1c1410" stroke-opacity="0.72" stroke-width="1"/>
<line x1="605.8" x2="605.8" y1="436.3" y2="583" stroke="#000" stroke-width="1.8"/>
<rect x="603.4" y="458.3" width="4.8" height="124.2" fill="#ff1c1c" stroke="#1c1410" stroke-opacity="0.72" stroke-width="1"/>
<line x1="622.5" x2="622.5" y1="557.2" y2="595" stroke="#000" stroke-width="1.8"/>
<line x1="619.1" x2="625.9" y1="567.5" y2="567.5" stroke="#8a2a2a" stroke-width="1.2"/>
<line x1="630.8" x2="630.8" y1="529.2" y2="570.8" stroke="#000" stroke-width="1.8"/>
<rect x="628.4" y="541.7" width="4.8" height="26.6" fill="#2c8408" stroke="#1c1410" stroke-opacity="0.72" stroke-width="1"/>
<line x1="639.2" x2="639.2" y1="523.3" y2="569.7" stroke="#000" stroke-width="1.8"/>
<rect x="636.8" y="542.5" width="4.8" height="14.2" fill="#ff1c1c" stroke="#1c1410" stroke-opacity="0.72" stroke-width="1"/>
<line x1="647.5" x2="647.5" y1="549.2" y2="587.5" stroke="#000" stroke-width="1.8"/>
<rect x="645.1" y="551.7" width="4.8" height="5.5" fill="#2c8408" stroke="#1c1410" stroke-opacity="0.72" stroke-width="1"/>
<line x1="655.8" x2="655.8" y1="530.3" y2="585.8" stroke="#000" stroke-width="1.8"/>
<rect x="653.4" y="552" width="4.8" height="2.2" fill="#ff1c1c" stroke="#1c1410" stroke-opacity="0.72" stroke-width="1"/>
<line x1="664.2" x2="664.2" y1="522.5" y2="567.8" stroke="#000" stroke-width="1.8"/>
<line x1="660.8000000000001" x2="667.6" y1="554.2" y2="554.2" stroke="#3a5a2a" stroke-width="1.2"/>
<line x1="680.8" x2="680.8" y1="534.2" y2="563.3" stroke="#000" stroke-width="1.8"/>
<rect x="678.4" y="547.8" width="4.8" height="12.5" fill="#2c8408" stroke="#1c1410" stroke-opacity="0.72" stroke-width="1"/>
<line x1="689.2" x2="689.2" y1="523.7" y2="596.2" stroke="#000" stroke-width="1.8"/>
<line x1="685.8000000000001" x2="692.6" y1="547.5" y2="547.5" stroke="#3a5a2a" stroke-width="1.2"/>
<line x1="697.8" x2="697.8" y1="485.8" y2="580.8" stroke="#000" stroke-width="1.8"/>
<rect x="695.4" y="518" width="4.8" height="29.5" fill="#2c8408" stroke="#1c1410" stroke-opacity="0.72" stroke-width="1"/>
<line x1="706.2" x2="706.2" y1="447.2" y2="525.7" stroke="#000" stroke-width="1.8"/>
<rect x="703.8" y="459.5" width="4.8" height="58.0" fill="#2c8408" stroke="#1c1410" stroke-opacity="0.72" stroke-width="1"/>
<line x1="714.7" x2="714.7" y1="438.3" y2="525.7" stroke="#000" stroke-width="1.8"/>
<rect x="712.3" y="458.7" width="4.8" height="27.1" fill="#ff1c1c" stroke="#1c1410" stroke-opacity="0.72" stroke-width="1"/>
<line x1="723" x2="723" y1="470" y2="555.3" stroke="#000" stroke-width="1.8"/>
<rect x="720.6" y="486.2" width="4.8" height="39.6" fill="#ff1c1c" stroke="#1c1410" stroke-opacity="0.72" stroke-width="1"/>
<line x1="739.7" x2="739.7" y1="501.7" y2="551.7" stroke="#000" stroke-width="1.8"/>
<rect x="737.3" y="505.3" width="4.8" height="33.4" fill="#2c8408" stroke="#1c1410" stroke-opacity="0.72" stroke-width="1"/>
<line x1="748" x2="748" y1="414.5" y2="516.2" stroke="#000" stroke-width="1.8"/>
<rect x="745.6" y="439.7" width="4.8" height="65.3" fill="#2c8408" stroke="#1c1410" stroke-opacity="0.72" stroke-width="1"/>
<line x1="756.3" x2="756.3" y1="433" y2="504.7" stroke="#000" stroke-width="1.8"/>
<rect x="753.9" y="439.7" width="4.8" height="15.8" fill="#ff1c1c" stroke="#1c1410" stroke-opacity="0.72" stroke-width="1"/>
<line x1="764.7" x2="764.7" y1="373.3" y2="467.5" stroke="#000" stroke-width="1.8"/>
<rect x="762.3" y="394.7" width="4.8" height="60.8" fill="#2c8408" stroke="#1c1410" stroke-opacity="0.72" stroke-width="1"/>
<line x1="773" x2="773" y1="342" y2="395" stroke="#000" stroke-width="1.8"/>
<rect x="770.6" y="356.7" width="4.8" height="38.0" fill="#2c8408" stroke="#1c1410" stroke-opacity="0.72" stroke-width="1"/>
<line x1="781.7" x2="781.7" y1="355.8" y2="411.7" stroke="#000" stroke-width="1.8"/>
<rect x="779.3" y="356.7" width="4.8" height="16.3" fill="#ff1c1c" stroke="#1c1410" stroke-opacity="0.72" stroke-width="1"/>
<line x1="806.7" x2="806.7" y1="354.2" y2="384.7" stroke="#000" stroke-width="1.8"/>
<rect x="804.3" y="363.7" width="4.8" height="19.3" fill="#2c8408" stroke="#1c1410" stroke-opacity="0.72" stroke-width="1"/>
<line x1="815" x2="815" y1="340" y2="374.7" stroke="#000" stroke-width="1.8"/>
<rect x="812.6" y="358.3" width="4.8" height="5.5" fill="#2c8408" stroke="#1c1410" stroke-opacity="0.72" stroke-width="1"/>
<line x1="823.5" x2="823.5" y1="316.2" y2="375.8" stroke="#000" stroke-width="1.8"/>
<rect x="821.1" y="356.2" width="4.8" height="2.1" fill="#2c8408" stroke="#1c1410" stroke-opacity="0.72" stroke-width="1"/>
<line x1="832" x2="832" y1="287.8" y2="372.5" stroke="#000" stroke-width="1.8"/>
<rect x="829.6" y="331.7" width="4.8" height="23.6" fill="#2c8408" stroke="#1c1410" stroke-opacity="0.72" stroke-width="1"/>
<line x1="840.3" x2="840.3" y1="312.8" y2="389.2" stroke="#000" stroke-width="1.8"/>
<rect x="837.9" y="331.2" width="4.8" height="47.5" fill="#ff1c1c" stroke="#1c1410" stroke-opacity="0.72" stroke-width="1"/>
<line x1="865.5" x2="865.5" y1="353" y2="375.8" stroke="#000" stroke-width="1.8"/>
<rect x="863.1" y="365.3" width="4.8" height="4.7" fill="#ff1c1c" stroke="#1c1410" stroke-opacity="0.72" stroke-width="1"/>
<line x1="873.8" x2="873.8" y1="347.2" y2="415.2" stroke="#000" stroke-width="1.8"/>
<rect x="871.4" y="369.2" width="4.8" height="5.5" fill="#ff1c1c" stroke="#1c1410" stroke-opacity="0.72" stroke-width="1"/>
<line x1="882.2" x2="882.2" y1="359.2" y2="478.7" stroke="#000" stroke-width="1.8"/>
<rect x="879.8" y="374.2" width="4.8" height="87.5" fill="#ff1c1c" stroke="#1c1410" stroke-opacity="0.72" stroke-width="1"/>
<line x1="890.5" x2="890.5" y1="442.5" y2="482" stroke="#000" stroke-width="1.8"/>
<rect x="888.1" y="442.5" width="4.8" height="19.5" fill="#2c8408" stroke="#1c1410" stroke-opacity="0.72" stroke-width="1"/>
<line x1="898.8" x2="898.8" y1="437.5" y2="505" stroke="#000" stroke-width="1.8"/>
<rect x="896.4" y="442.5" width="4.8" height="59.5" fill="#ff1c1c" stroke="#1c1410" stroke-opacity="0.72" stroke-width="1"/>
<line x1="915.5" x2="915.5" y1="481.7" y2="510" stroke="#000" stroke-width="1.8"/>
<rect x="913.1" y="494.7" width="4.8" height="10.6" fill="#2c8408" stroke="#1c1410" stroke-opacity="0.72" stroke-width="1"/>
<line x1="924" x2="924" y1="462.2" y2="532.5" stroke="#000" stroke-width="1.8"/>
<rect x="921.6" y="495" width="4.8" height="18.7" fill="#ff1c1c" stroke="#1c1410" stroke-opacity="0.72" stroke-width="1"/>
<line x1="932.3" x2="932.3" y1="487.5" y2="526.3" stroke="#000" stroke-width="1.8"/>
<rect x="929.9" y="500.3" width="4.8" height="13.0" fill="#2c8408" stroke="#1c1410" stroke-opacity="0.72" stroke-width="1"/>
<line x1="940.8" x2="940.8" y1="462.8" y2="508.7" stroke="#000" stroke-width="1.8"/>
<rect x="938.4" y="481.7" width="4.8" height="19.1" fill="#2c8408" stroke="#1c1410" stroke-opacity="0.72" stroke-width="1"/>
<line x1="949.2" x2="949.2" y1="468.8" y2="518.7" stroke="#000" stroke-width="1.8"/>
<rect x="946.8" y="481.7" width="4.8" height="30.5" fill="#ff1c1c" stroke="#1c1410" stroke-opacity="0.72" stroke-width="1"/>
<line x1="957.5" x2="957.5" y1="489.2" y2="535.8" stroke="#000" stroke-width="1.8"/>
<rect x="955.1" y="512.2" width="4.8" height="21.1" fill="#ff1c1c" stroke="#1c1410" stroke-opacity="0.72" stroke-width="1"/>
<line x1="974.2" x2="974.2" y1="511.3" y2="537" stroke="#000" stroke-width="1.8"/>
<rect x="971.8" y="513" width="4.8" height="10.8" fill="#2c8408" stroke="#1c1410" stroke-opacity="0.72" stroke-width="1"/>
<line x1="982.8" x2="982.8" y1="479.7" y2="518" stroke="#000" stroke-width="1.8"/>
<rect x="980.4" y="487.8" width="4.8" height="25.5" fill="#2c8408" stroke="#1c1410" stroke-opacity="0.72" stroke-width="1"/>
<line x1="991.2" x2="991.2" y1="463" y2="517.5" stroke="#000" stroke-width="1.8"/>
<line x1="987.8000000000001" x2="994.6" y1="501.4" y2="501.4" stroke="#3a5a2a" stroke-width="1.2"/>
<line x1="999.5" x2="999.5" y1="467.2" y2="560.8" stroke="#000" stroke-width="1.8"/>
<rect x="997.1" y="486.7" width="4.8" height="38.6" fill="#ff1c1c" stroke="#1c1410" stroke-opacity="0.72" stroke-width="1"/>
<line x1="1007.8" x2="1007.8" y1="517.5" y2="594.2" stroke="#000" stroke-width="1.8"/>
<rect x="1005.4" y="525.3" width="4.8" height="53.0" fill="#ff1c1c" stroke="#1c1410" stroke-opacity="0.72" stroke-width="1"/>
<line x1="1016.2" x2="1016.2" y1="515" y2="579" stroke="#000" stroke-width="1.8"/>
<rect x="1013.8" y="543.7" width="4.8" height="34.6" fill="#2c8408" stroke="#1c1410" stroke-opacity="0.72" stroke-width="1"/>
<line x1="1033" x2="1033" y1="544.7" y2="569.2" stroke="#000" stroke-width="1.8"/>
<rect x="1030.6" y="548.8" width="4.8" height="9.9" fill="#2c8408" stroke="#1c1410" stroke-opacity="0.72" stroke-width="1"/>
<line x1="1041.3" x2="1041.3" y1="533.3" y2="585.8" stroke="#000" stroke-width="1.8"/>
<rect x="1038.9" y="549.2" width="4.8" height="26.3" fill="#ff1c1c" stroke="#1c1410" stroke-opacity="0.72" stroke-width="1"/>
<line x1="1049.7" x2="1049.7" y1="566.2" y2="600.8" stroke="#000" stroke-width="1.8"/>
<rect x="1047.3" y="575.5" width="4.8" height="10.3" fill="#ff1c1c" stroke="#1c1410" stroke-opacity="0.72" stroke-width="1"/>
<line x1="1058" x2="1058" y1="573.3" y2="620.3" stroke="#000" stroke-width="1.8"/>
<rect x="1055.6" y="584.2" width="4.8" height="2.1" fill="#2c8408" stroke="#1c1410" stroke-opacity="0.72" stroke-width="1"/>
<line x1="1066.7" x2="1066.7" y1="568" y2="648.3" stroke="#000" stroke-width="1.8"/>
<rect x="1064.3" y="583.8" width="4.8" height="37.9" fill="#ff1c1c" stroke="#1c1410" stroke-opacity="0.72" stroke-width="1"/>
<line x1="1075" x2="1075" y1="598.7" y2="640.8" stroke="#000" stroke-width="1.8"/>
<rect x="1072.6" y="612.8" width="4.8" height="8.4" fill="#2c8408" stroke="#1c1410" stroke-opacity="0.72" stroke-width="1"/>
<line x1="1091.7" x2="1091.7" y1="605.3" y2="632.8" stroke="#000" stroke-width="1.8"/>
<rect x="1089.3" y="614.7" width="4.8" height="2.5" fill="#2c8408" stroke="#1c1410" stroke-opacity="0.72" stroke-width="1"/>
<line x1="1100" x2="1100" y1="606.2" y2="663.8" stroke="#000" stroke-width="1.8"/>
<rect x="1097.6" y="614.5" width="4.8" height="32.2" fill="#ff1c1c" stroke="#1c1410" stroke-opacity="0.72" stroke-width="1"/>
<line x1="1108.3" x2="1108.3" y1="562" y2="656.2" stroke="#000" stroke-width="1.8"/>
<rect x="1105.9" y="610.5" width="4.8" height="35.8" fill="#2c8408" stroke="#1c1410" stroke-opacity="0.72" stroke-width="1"/>
<line x1="1116.8" x2="1116.8" y1="598.7" y2="655.3" stroke="#000" stroke-width="1.8"/>
<rect x="1114.4" y="610.5" width="4.8" height="38.3" fill="#ff1c1c" stroke="#1c1410" stroke-opacity="0.72" stroke-width="1"/>
<line x1="1125.2" x2="1125.2" y1="578.8" y2="649.5" stroke="#000" stroke-width="1.8"/>
<rect x="1122.8" y="629.5" width="4.8" height="19.3" fill="#2c8408" stroke="#1c1410" stroke-opacity="0.72" stroke-width="1"/>
<line x1="1133.5" x2="1133.5" y1="598.7" y2="649.5" stroke="#000" stroke-width="1.8"/>
<rect x="1131.1" y="625.8" width="4.8" height="4.7" fill="#2c8408" stroke="#1c1410" stroke-opacity="0.72" stroke-width="1"/>
<line x1="1150.3" x2="1150.3" y1="609.2" y2="643.3" stroke="#000" stroke-width="1.8"/>
<rect x="1147.9" y="612.2" width="4.8" height="31.1" fill="#2c8408" stroke="#1c1410" stroke-opacity="0.72" stroke-width="1"/>
<line x1="1158.7" x2="1158.7" y1="553.3" y2="633" stroke="#000" stroke-width="1.8"/>
<rect x="1156.3" y="557.5" width="4.8" height="54.5" fill="#2c8408" stroke="#1c1410" stroke-opacity="0.72" stroke-width="1"/>
<line x1="1167" x2="1167" y1="557.5" y2="631.7" stroke="#000" stroke-width="1.8"/>
<rect x="1164.6" y="558" width="4.8" height="65.8" fill="#ff1c1c" stroke="#1c1410" stroke-opacity="0.72" stroke-width="1"/>
<line x1="1175.3" x2="1175.3" y1="613" y2="657.8" stroke="#000" stroke-width="1.8"/>
<line x1="1171.8999999999999" x2="1178.7" y1="623.8" y2="623.8" stroke="#8a2a2a" stroke-width="1.2"/>
<line x1="1183.8" x2="1183.8" y1="605" y2="631.2" stroke="#000" stroke-width="1.8"/>
<rect x="1181.4" y="613.8" width="4.8" height="10.7" fill="#2c8408" stroke="#1c1410" stroke-opacity="0.72" stroke-width="1"/>
<line x1="1192.2" x2="1192.2" y1="599.7" y2="628" stroke="#000" stroke-width="1.8"/>
<rect x="1189.8" y="613.8" width="4.8" height="5.7" fill="#ff1c1c" stroke="#1c1410" stroke-opacity="0.72" stroke-width="1"/>
<line x1="1208.8" x2="1208.8" y1="604.2" y2="647" stroke="#000" stroke-width="1.8"/>
<rect x="1206.4" y="604.7" width="4.8" height="34.0" fill="#2c8408" stroke="#1c1410" stroke-opacity="0.72" stroke-width="1"/>
<line x1="1217.2" x2="1217.2" y1="601.2" y2="642.8" stroke="#000" stroke-width="1.8"/>
<rect x="1214.8" y="604.7" width="4.8" height="25.8" fill="#ff1c1c" stroke="#1c1410" stroke-opacity="0.72" stroke-width="1"/>
<line x1="1225.8" x2="1225.8" y1="623" y2="689.7" stroke="#000" stroke-width="1.8"/>
<rect x="1223.4" y="630.8" width="4.8" height="47.9" fill="#ff1c1c" stroke="#1c1410" stroke-opacity="0.72" stroke-width="1"/>
<line x1="1234.2" x2="1234.2" y1="596.7" y2="691.3" stroke="#000" stroke-width="1.8"/>
<rect x="1231.8" y="614.5" width="4.8" height="64.3" fill="#2c8408" stroke="#1c1410" stroke-opacity="0.72" stroke-width="1"/>
<line x1="1242.5" x2="1242.5" y1="557.2" y2="621.7" stroke="#000" stroke-width="1.8"/>
<rect x="1240.1" y="592.5" width="4.8" height="22.2" fill="#2c8408" stroke="#1c1410" stroke-opacity="0.72" stroke-width="1"/>
<line x1="1250.8" x2="1250.8" y1="566.2" y2="623.7" stroke="#000" stroke-width="1.8"/>
<line x1="1247.3999999999999" x2="1254.2" y1="592.8" y2="592.8" stroke="#3a5a2a" stroke-width="1.2"/>
<line x1="1267.8" x2="1267.8" y1="590" y2="620" stroke="#000" stroke-width="1.8"/>
<rect x="1265.4" y="591.3" width="4.8" height="17.0" fill="#2c8408" stroke="#1c1410" stroke-opacity="0.72" stroke-width="1"/>
<line x1="1276.2" x2="1276.2" y1="574.7" y2="618.3" stroke="#000" stroke-width="1.8"/>
<rect x="1273.8" y="575.5" width="4.8" height="16.2" fill="#2c8408" stroke="#1c1410" stroke-opacity="0.72" stroke-width="1"/>
<line x1="1284.5" x2="1284.5" y1="542.2" y2="602" stroke="#000" stroke-width="1.8"/>
<rect x="1282.1" y="571.7" width="4.8" height="4.1" fill="#2c8408" stroke="#1c1410" stroke-opacity="0.72" stroke-width="1"/>
<line x1="1292.8" x2="1292.8" y1="554.2" y2="585.8" stroke="#000" stroke-width="1.8"/>
<line x1="1289.3999999999999" x2="1296.2" y1="572.5" y2="572.5" stroke="#8a2a2a" stroke-width="1.2"/>
<line x1="1301.2" x2="1301.2" y1="547.2" y2="608.3" stroke="#000" stroke-width="1.8"/>
<rect x="1298.8" y="572.8" width="4.8" height="22.8" fill="#ff1c1c" stroke="#1c1410" stroke-opacity="0.72" stroke-width="1"/>
<line x1="1309.6" x2="1309.6" y1="591.7" y2="635" stroke="#000" stroke-width="1.8"/>
<rect x="1307.2" y="595.5" width="4.8" height="29.8" fill="#ff1c1c" stroke="#1c1410" stroke-opacity="0.72" stroke-width="1"/>
<line x1="1326.3" x2="1326.3" y1="613.7" y2="644.7" stroke="#000" stroke-width="1.8"/>
<rect x="1323.9" y="616.2" width="4.8" height="19.6" fill="#2c8408" stroke="#1c1410" stroke-opacity="0.72" stroke-width="1"/>
<line x1="1334.7" x2="1334.7" y1="574.2" y2="618.7" stroke="#000" stroke-width="1.8"/>
<rect x="1332.3" y="586.7" width="4.8" height="29.5" fill="#2c8408" stroke="#1c1410" stroke-opacity="0.72" stroke-width="1"/>
<line x1="1343" x2="1343" y1="562.5" y2="606.7" stroke="#000" stroke-width="1.8"/>
<rect x="1340.6" y="586.7" width="4.8" height="8.3" fill="#ff1c1c" stroke="#1c1410" stroke-opacity="0.72" stroke-width="1"/>
<line x1="1351.3" x2="1351.3" y1="566.2" y2="601.7" stroke="#000" stroke-width="1.8"/>
<rect x="1348.9" y="575.8" width="4.8" height="19.2" fill="#2c8408" stroke="#1c1410" stroke-opacity="0.72" stroke-width="1"/>
<line x1="1359.7" x2="1359.7" y1="556.7" y2="593.3" stroke="#000" stroke-width="1.8"/>
<rect x="1357.3" y="575.3" width="4.8" height="5.2" fill="#ff1c1c" stroke="#1c1410" stroke-opacity="0.72" stroke-width="1"/>
<line x1="1368" x2="1368" y1="546.3" y2="585.8" stroke="#000" stroke-width="1.8"/>
<rect x="1365.6" y="573.8" width="4.8" height="6.7" fill="#2c8408" stroke="#1c1410" stroke-opacity="0.72" stroke-width="1"/>
<line x1="1385" x2="1385" y1="565.8" y2="593.3" stroke="#000" stroke-width="1.8"/>
<rect x="1382.6" y="569.7" width="4.8" height="15.3" fill="#2c8408" stroke="#1c1410" stroke-opacity="0.72" stroke-width="1"/>
<line x1="1393.3" x2="1393.3" y1="563.8" y2="602.8" stroke="#000" stroke-width="1.8"/>
<rect x="1390.9" y="569.5" width="4.8" height="18.5" fill="#ff1c1c" stroke="#1c1410" stroke-opacity="0.72" stroke-width="1"/>
<line x1="1401.7" x2="1401.7" y1="575" y2="626.3" stroke="#000" stroke-width="1.8"/>
<rect x="1399.3" y="588.7" width="4.8" height="16.0" fill="#ff1c1c" stroke="#1c1410" stroke-opacity="0.72" stroke-width="1"/>
<line x1="1410" x2="1410" y1="570.8" y2="610.3" stroke="#000" stroke-width="1.8"/>
<rect x="1407.6" y="579.5" width="4.8" height="25.2" fill="#2c8408" stroke="#1c1410" stroke-opacity="0.72" stroke-width="1"/>
<line x1="1418.5" x2="1418.5" y1="571.2" y2="643.3" stroke="#000" stroke-width="1.8"/>
<rect x="1416.1" y="579.5" width="4.8" height="21.3" fill="#ff1c1c" stroke="#1c1410" stroke-opacity="0.72" stroke-width="1"/>
<line x1="1427" x2="1427" y1="598" y2="682.5" stroke="#000" stroke-width="1.8"/>
<rect x="1424.6" y="600.8" width="4.8" height="81.7" fill="#ff1c1c" stroke="#1c1410" stroke-opacity="0.72" stroke-width="1"/>
<line x1="1443.7" x2="1443.7" y1="664.2" y2="691" stroke="#000" stroke-width="1.8"/>
<rect x="1441.3" y="665" width="4.8" height="20.3" fill="#2c8408" stroke="#1c1410" stroke-opacity="0.72" stroke-width="1"/>
<line x1="1452" x2="1452" y1="622.5" y2="670.3" stroke="#000" stroke-width="1.8"/>
<rect x="1449.6" y="637.2" width="4.8" height="27.8" fill="#2c8408" stroke="#1c1410" stroke-opacity="0.72" stroke-width="1"/>
<line x1="1460.3" x2="1460.3" y1="586.2" y2="640" stroke="#000" stroke-width="1.8"/>
<rect x="1457.9" y="613.8" width="4.8" height="23.7" fill="#2c8408" stroke="#1c1410" stroke-opacity="0.72" stroke-width="1"/>
<line x1="1468.7" x2="1468.7" y1="577.2" y2="615.8" stroke="#000" stroke-width="1.8"/>
<rect x="1466.3" y="583.3" width="4.8" height="30.9" fill="#2c8408" stroke="#1c1410" stroke-opacity="0.72" stroke-width="1"/>
<line x1="1477.2" x2="1477.2" y1="581.7" y2="635.8" stroke="#000" stroke-width="1.8"/>
<rect x="1474.8" y="583.3" width="4.8" height="31.4" fill="#ff1c1c" stroke="#1c1410" stroke-opacity="0.72" stroke-width="1"/>
<line x1="1485.5" x2="1485.5" y1="588.8" y2="618.7" stroke="#000" stroke-width="1.8"/>
<rect x="1483.1" y="603.3" width="4.8" height="12.0" fill="#2c8408" stroke="#1c1410" stroke-opacity="0.72" stroke-width="1"/>
<line x1="1502.2" x2="1502.2" y1="593.7" y2="621.7" stroke="#000" stroke-width="1.8"/>
<line x1="1498.8" x2="1505.6000000000001" y1="597.5" y2="597.5" stroke="#3a5a2a" stroke-width="1.2"/>
<line x1="1510.8" x2="1510.8" y1="571.3" y2="620.8" stroke="#000" stroke-width="1.8"/>
<rect x="1508.4" y="597.2" width="4.8" height="9.5" fill="#ff1c1c" stroke="#1c1410" stroke-opacity="0.72" stroke-width="1"/>
<line x1="1519.2" x2="1519.2" y1="583.7" y2="627.2" stroke="#000" stroke-width="1.8"/>
<rect x="1516.8" y="607" width="4.8" height="5.0" fill="#ff1c1c" stroke="#1c1410" stroke-opacity="0.72" stroke-width="1"/>
<line x1="1527.5" x2="1527.5" y1="581.3" y2="623.3" stroke="#000" stroke-width="1.8"/>
<rect x="1525.1" y="602" width="4.8" height="9.7" fill="#2c8408" stroke="#1c1410" stroke-opacity="0.72" stroke-width="1"/>
<line x1="1535.8" x2="1535.8" y1="534.2" y2="633.3" stroke="#000" stroke-width="1.8"/>
<rect x="1533.4" y="539.7" width="4.8" height="62.0" fill="#2c8408" stroke="#1c1410" stroke-opacity="0.72" stroke-width="1"/>
<line x1="1544.2" x2="1544.2" y1="497" y2="561.7" stroke="#000" stroke-width="1.8"/>
<rect x="1541.8" y="539.7" width="4.8" height="4.8" fill="#ff1c1c" stroke="#1c1410" stroke-opacity="0.72" stroke-width="1"/>
<line x1="1560.8" x2="1560.8" y1="537" y2="569.7" stroke="#000" stroke-width="1.8"/>
<rect x="1558.4" y="540.8" width="4.8" height="22.5" fill="#2c8408" stroke="#1c1410" stroke-opacity="0.72" stroke-width="1"/>
<line x1="1569.2" x2="1569.2" y1="529.7" y2="566.3" stroke="#000" stroke-width="1.8"/>
<rect x="1566.8" y="541.2" width="4.8" height="5.0" fill="#ff1c1c" stroke="#1c1410" stroke-opacity="0.72" stroke-width="1"/>
<line x1="1577.5" x2="1577.5" y1="523" y2="558.8" stroke="#000" stroke-width="1.8"/>
<rect x="1575.1" y="542" width="4.8" height="3.8" fill="#2c8408" stroke="#1c1410" stroke-opacity="0.72" stroke-width="1"/>
<line x1="1586.2" x2="1586.2" y1="528.8" y2="573.3" stroke="#000" stroke-width="1.8"/>
<rect x="1583.8" y="542.2" width="4.8" height="15.8" fill="#ff1c1c" stroke="#1c1410" stroke-opacity="0.72" stroke-width="1"/>
<line x1="1594.5" x2="1594.5" y1="556.7" y2="618" stroke="#000" stroke-width="1.8"/>
<rect x="1592.1" y="557.5" width="4.8" height="37.5" fill="#ff1c1c" stroke="#1c1410" stroke-opacity="0.72" stroke-width="1"/>
<line x1="1602.8" x2="1602.8" y1="586.3" y2="631.7" stroke="#000" stroke-width="1.8"/>
<rect x="1600.4" y="595" width="4.8" height="10.8" fill="#ff1c1c" stroke="#1c1410" stroke-opacity="0.72" stroke-width="1"/>
<line x1="1619.5" x2="1619.5" y1="604.2" y2="634.5" stroke="#000" stroke-width="1.8"/>
<rect x="1617.1" y="606.7" width="4.8" height="16.1" fill="#2c8408" stroke="#1c1410" stroke-opacity="0.72" stroke-width="1"/>
<line x1="1627.5" x2="1627.5" y1="570.8" y2="614.7" stroke="#000" stroke-width="1.8"/>
<rect x="1625.1" y="578.7" width="4.8" height="28.3" fill="#2c8408" stroke="#1c1410" stroke-opacity="0.72" stroke-width="1"/>
<line x1="1635.8" x2="1635.8" y1="547.8" y2="612.5" stroke="#000" stroke-width="1.8"/>
<rect x="1633.4" y="570.5" width="4.8" height="8.3" fill="#2c8408" stroke="#1c1410" stroke-opacity="0.72" stroke-width="1"/>
<line x1="1644.2" x2="1644.2" y1="553.3" y2="581.7" stroke="#000" stroke-width="1.8"/>
<rect x="1641.8" y="559.2" width="4.8" height="11.3" fill="#2c8408" stroke="#1c1410" stroke-opacity="0.72" stroke-width="1"/>
<line x1="145.5" x2="145.5" y1="170.8" y2="725.2" stroke="#416f2e" stroke-width="2.3" stroke-dasharray="2.4 5.6" stroke-linecap="round"/>
<line x1="145.3" x2="1645.3" y1="165.5" y2="165.5" stroke="#4a7d36" stroke-width="2.3" stroke-dasharray="2.4 5.6" stroke-linecap="round"/>
<line x1="152.3" x2="1645.3" y1="725.6" y2="725.6" stroke="#558c3c" stroke-width="2.2" stroke-dasharray="2.2 5.8" stroke-linecap="round"/>
<line x1="137" x2="137" y1="164.8" y2="725.9000000000001" stroke="#1f7e02" stroke-width="2"/>
<line x1="124.2" x2="137.8" y1="165.5" y2="165.5" stroke="#1f7e02" stroke-width="2"/>
<line x1="124.2" x2="137.8" y1="725.2" y2="725.2" stroke="#1f7e02" stroke-width="2"/>
<line x1="124.2" x2="137" y1="221.4" y2="221.4" stroke="#1f7e02" stroke-width="2"/>
<text x="116.8" y="229.0" text-anchor="end" font-size="23.5" fill="#1f7e02" stroke="#1f7e02" stroke-width="0.45" textLength="40" lengthAdjust="spacingAndGlyphs">0.88</text>
<line x1="124.2" x2="137" y1="314.8" y2="314.8" stroke="#1f7e02" stroke-width="2"/>
<text x="116.8" y="322.4" text-anchor="end" font-size="23.5" fill="#1f7e02" stroke="#1f7e02" stroke-width="0.45" textLength="40" lengthAdjust="spacingAndGlyphs">0.87</text>
<line x1="124.2" x2="137" y1="408.1" y2="408.1" stroke="#1f7e02" stroke-width="2"/>
<text x="116.8" y="415.7" text-anchor="end" font-size="23.5" fill="#1f7e02" stroke="#1f7e02" stroke-width="0.45" textLength="40" lengthAdjust="spacingAndGlyphs">0.86</text>
<line x1="124.2" x2="137" y1="501.4" y2="501.4" stroke="#1f7e02" stroke-width="2"/>
<text x="116.8" y="509.0" text-anchor="end" font-size="23.5" fill="#1f7e02" stroke="#1f7e02" stroke-width="0.45" textLength="40" lengthAdjust="spacingAndGlyphs">0.86</text>
<line x1="124.2" x2="137" y1="594.8" y2="594.8" stroke="#1f7e02" stroke-width="2"/>
<text x="116.8" y="602.4" text-anchor="end" font-size="23.5" fill="#1f7e02" stroke="#1f7e02" stroke-width="0.45" textLength="40" lengthAdjust="spacingAndGlyphs">0.85</text>
<line x1="124.2" x2="137" y1="688.1" y2="688.1" stroke="#1f7e02" stroke-width="2"/>
<text x="116.8" y="695.8" text-anchor="end" font-size="23.5" fill="#1f7e02" stroke="#1f7e02" stroke-width="0.45" textLength="40" lengthAdjust="spacingAndGlyphs">0.85</text>
<line x1="1653.8" x2="1653.8" y1="164.8" y2="725.9000000000001" stroke="#8a8a8c" stroke-width="2"/>
<line x1="1653.8" x2="1664.8" y1="165.5" y2="165.5" stroke="#8a8a8c" stroke-width="2"/>
<text x="1671.5" y="173.1" font-size="23.5" fill="#233142" stroke="#233142" stroke-width="0.45" textLength="38.2" lengthAdjust="spacingAndGlyphs">80%</text>
<line x1="1653.8" x2="1664.8" y1="221.5" y2="221.5" stroke="#8a8a8c" stroke-width="2"/>
<text x="1671.5" y="229.1" font-size="23.5" fill="#233142" stroke="#233142" stroke-width="0.45" textLength="38.2" lengthAdjust="spacingAndGlyphs">75%</text>
<line x1="1653.8" x2="1664.8" y1="277.4" y2="277.4" stroke="#8a8a8c" stroke-width="2"/>
<text x="1671.5" y="285.0" font-size="23.5" fill="#233142" stroke="#233142" stroke-width="0.45" textLength="38.2" lengthAdjust="spacingAndGlyphs">70%</text>
<line x1="1653.8" x2="1664.8" y1="333.4" y2="333.4" stroke="#8a8a8c" stroke-width="2"/>
<text x="1671.5" y="341.0" font-size="23.5" fill="#233142" stroke="#233142" stroke-width="0.45" textLength="38.2" lengthAdjust="spacingAndGlyphs">65%</text>
<line x1="1653.8" x2="1664.8" y1="389.4" y2="389.4" stroke="#8a8a8c" stroke-width="2"/>
<text x="1671.5" y="397.0" font-size="23.5" fill="#233142" stroke="#233142" stroke-width="0.45" textLength="38.2" lengthAdjust="spacingAndGlyphs">60%</text>
<line x1="1653.8" x2="1664.8" y1="445.4" y2="445.4" stroke="#8a8a8c" stroke-width="2"/>
<text x="1671.5" y="453.0" font-size="23.5" fill="#233142" stroke="#233142" stroke-width="0.45" textLength="38.2" lengthAdjust="spacingAndGlyphs">55%</text>
<line x1="1653.8" x2="1664.8" y1="501.3" y2="501.3" stroke="#8a8a8c" stroke-width="2"/>
<text x="1671.5" y="508.9" font-size="23.5" fill="#233142" stroke="#233142" stroke-width="0.45" textLength="38.2" lengthAdjust="spacingAndGlyphs">50%</text>
<line x1="1653.8" x2="1664.8" y1="557.3" y2="557.3" stroke="#8a8a8c" stroke-width="2"/>
<text x="1671.5" y="564.9" font-size="23.5" fill="#233142" stroke="#233142" stroke-width="0.45" textLength="38.2" lengthAdjust="spacingAndGlyphs">45%</text>
<line x1="1653.8" x2="1664.8" y1="613.3" y2="613.3" stroke="#8a8a8c" stroke-width="2"/>
<text x="1671.5" y="620.9" font-size="23.5" fill="#233142" stroke="#233142" stroke-width="0.45" textLength="38.2" lengthAdjust="spacingAndGlyphs">40%</text>
<line x1="1653.8" x2="1664.8" y1="669.2" y2="669.2" stroke="#8a8a8c" stroke-width="2"/>
<text x="1671.5" y="676.8" font-size="23.5" fill="#233142" stroke="#233142" stroke-width="0.45" textLength="38.2" lengthAdjust="spacingAndGlyphs">35%</text>
<line x1="1653.8" x2="1664.8" y1="725.2" y2="725.2" stroke="#8a8a8c" stroke-width="2"/>
<text x="1671.5" y="732.8" font-size="23.5" fill="#233142" stroke="#233142" stroke-width="0.45" textLength="38.2" lengthAdjust="spacingAndGlyphs">30%</text>
<text x="162.8" y="784" font-size="23.5" font-weight="bold" fill="#000" textLength="222" lengthAdjust="spacingAndGlyphs">Percentage of Traders</text>
<rect x="442" y="766.2" width="20.2" height="19.6" fill="#e8f4fd" stroke="#1b9be4" stroke-width="4"/>
<text x="472.7" y="784" font-size="23.5" fill="#000" stroke="#000" stroke-width="0.4" textLength="78.8" lengthAdjust="spacingAndGlyphs">net long</text>
<rect x="672" y="766.2" width="20.2" height="19.6" fill="#fce7e8" stroke="#d0021b" stroke-width="4"/>
<text x="702.6" y="784" font-size="23.5" fill="#000" stroke="#000" stroke-width="0.4" textLength="86.6" lengthAdjust="spacingAndGlyphs">net short</text>
<text x="903" y="784" font-size="23.5" font-weight="bold" fill="#000" textLength="183.5" lengthAdjust="spacingAndGlyphs">Number of Traders</text>
<line x1="1142" x2="1162" y1="775.8" y2="775.8" stroke="#1b9be4" stroke-width="4"/>
<text x="1172.4" y="784" font-size="23.5" fill="#000" stroke="#000" stroke-width="0.4" textLength="79" lengthAdjust="spacingAndGlyphs">net long</text>
<line x1="1372" x2="1392" y1="775.8" y2="775.8" stroke="#d0021b" stroke-width="4"/>
<text x="1402" y="784" font-size="23.5" fill="#000" stroke="#000" stroke-width="0.4" textLength="86.6" lengthAdjust="spacingAndGlyphs">net short</text>
<line x1="144.3" x2="1645.3" y1="840.8" y2="840.8" stroke="#bdbdbd" stroke-width="2" stroke-dasharray="4 4"/>
<line x1="144.3" x2="1645.3" y1="874.8" y2="874.8" stroke="#bdbdbd" stroke-width="2" stroke-dasharray="4 4"/>
<line x1="144.3" x2="1645.3" y1="908.8" y2="908.8" stroke="#bdbdbd" stroke-width="2" stroke-dasharray="4 4"/>
<line x1="144.3" x2="1645.3" y1="942.8" y2="942.8" stroke="#bdbdbd" stroke-width="2" stroke-dasharray="4 4"/>
<path d="M145.3,976.8 L145.3,806.8 L1645.3,806.8" fill="none" stroke="#929292" stroke-width="1.9" stroke-dasharray="4 4"/>
<line x1="1645.3" x2="1645.3" y1="806.8" y2="976.8" stroke="#c4c4c4" stroke-width="1.5" stroke-dasharray="3.6 4.4"/>
<line x1="145.3" x2="1645.3" y1="977.0" y2="977.0" stroke="#cacaca" stroke-width="2"/>
<polyline points="144.7,908 152.5,908 160.8,909.2 169.7,898.3 178,897.2 186.3,895.8 194.7,904.2 203,911.3 211.3,911.3 219.7,908.8 228,914.7 236.3,915 244.7,910 253.3,923.7 261.7,929.2 270,929.2 278.3,928 286.7,914.2 295,915 303.3,914.5 311.7,915.5 320.3,923.3 329.2,923.3 337.5,923.3 345.8,919.2 354.3,915.5 362.7,904.2 371,919.2 379.5,914.2 387.8,914.2 396.2,913.7 404.5,904.2 412.8,916.3 421.3,910.8 429.7,916.3 438,939.7 446.3,939.7 454.7,937 463,929.2 471.5,920.3 479.8,925 488.2,929.7 496.5,934.2 505,934.2 513.3,934.7 521.8,927.5 530,900.8 538.7,888.3 547.2,888.3 555.5,880 563.7,879.7 572,881.7 580.5,873.3 588.8,866.7 597.2,869.2 605.8,868.3 614.2,852 622.5,852 630.8,852.8 639.2,837.5 647.5,833.8 655.8,831.7 664.2,833.3 672.5,845.5 680.8,845.8 689.2,845 697.8,836.3 706.2,843.7 714.7,853 723,862.5 731.3,864.7 739.7,864.7 748.3,863.3 756.3,887.8 764.7,881.7 773,898.8 781.7,907 790,914.7 798.3,914.7 806.7,914.2 815,914.2 823.5,916.2 832,916.7 840.3,920.3 848.7,922.2 857,922.2 865.5,921.3 873.8,921.2 882.2,918.3 890.5,899.7 898.8,895 907.2,890.8 915.5,890.8 924,889.2 932.3,883.3 940.8,881.7 949.2,886.3 957.5,881.2 965.8,882.5 974.2,882.5 982.8,881.7 991.2,876.7 999.5,871.2 1007.8,873.8 1016.3,864.7 1025,879.7 1033.3,879.7 1041.3,880.3 1049.7,853.7 1058,844.7 1066.7,853.3 1075,845.5 1083.3,854.2 1091.7,854.2 1100,854.2 1108.3,834.2 1116.8,847.5 1125.2,827.2 1133.5,833 1141.8,838.8 1150.3,839.2 1158.7,838.3 1167,850 1175.3,822.8 1183.8,805.8 1192.2,820 1200.5,828.7 1208.8,828.7 1217.2,832.5 1225.8,825 1234.2,815.3 1242.5,838 1250.8,844.2 1259.2,845.3 1267.8,845.3 1276.2,844.2 1284.5,839.2 1292.8,848.3 1301.2,843.8 1309.7,830.3 1318,834.5 1326.3,834.5 1334.7,833.3 1343,843.7 1351.3,845.8 1359.7,853.3 1368,853.3 1376.7,864.2 1385,864.2 1393.3,863 1401.7,850.3 1410,849.2 1418.5,866.3 1427,863.3 1435.3,843.8 1443.7,843.8 1452,843 1460.3,850 1468.7,864.2 1477.2,868 1485.5,862.5 1493.8,869.2 1502.2,869.2 1510.8,867.5 1519.2,869.2 1527.5,867.5 1535.8,874.2 1544.2,895.3 1552.5,900.5 1560.8,900.5 1569.2,902.8 1577.5,892.2 1586.2,893.3 1594.5,882 1602.8,869.2 1611.2,870 1619.5,870 1627.5,872.8 1635.8,878.3 1644.2,884.7" fill="none" stroke="#1b9be4" stroke-width="3.2" stroke-linejoin="round"/>
<polyline points="144.7,901.3 152.5,901.3 160.8,900 169.7,907.2 178,902 186.7,908 194.7,908.8 203,916.3 211.3,916.3 219.7,921.7 228,892.5 236.3,892.5 244.7,898.3 253.3,885.8 261.7,894.7 270,895 278.3,893 286.7,888.3 295,892.5 303.3,890.8 311.7,889.2 320.3,885 329.2,885 337.5,882.2 345.8,875.8 354.3,892.5 362.7,902 371,894.2 379.5,920 387.8,920 396.2,918.7 404.5,922.5 412.8,907.5 421.3,902.5 429.7,895 438,877.5 446.3,877.5 454.7,884.2 463,896.3 471.5,904.7 479.8,890 488.2,880.8 496.5,882.5 505,882.5 513.3,885 521.8,874.5 530,909.2 538.7,905 547.2,916.7 555.5,925.3 563.7,925.3 572,924.2 580.5,930 588.8,932.5 597.2,935.8 605.8,940.8 614.2,960.3 622.5,960.3 630.8,959.2 639.2,950.5 647.5,950.5 655.8,948.8 664.2,947.2 672.5,954.2 680.8,954.2 689.2,956.2 697.8,947.5 706.2,942.5 714.7,937.5 723,937.5 731.3,953.3 739.7,953.3 748,952 756.3,933.7 764.7,939.2 773,926.7 781.7,915.8 790,921.7 798.3,921.7 806.7,922.8 815,923.8 823.5,919.2 832,917.5 840.3,915 848.7,925 857,925 865.5,923.8 873.8,922.8 882.2,906.2 890.5,926.7 898.8,930 907.2,942.2 915.5,942.2 924,938.7 932.3,932.8 940.8,932.5 949.2,932.8 957.5,939.2 965.8,941.7 974.2,942 982.8,940 991.2,936.3 999.5,940.5 1007.8,940.5 1016.3,948 1025,946.7 1033.3,946.7 1041.3,946.7 1049.7,949.2 1058,947.5 1066.7,955.3 1075,959.5 1083.3,951.3 1091.7,951.3 1100,952 1108.3,957.2 1116.8,942.2 1125.2,953.8 1133.5,949.7 1141.8,952 1150.3,952 1158.7,953 1167,932.2 1175.3,949.5 1183.8,955.5 1192.2,952.8 1200.5,957.2 1208.8,957.5 1217.2,955.8 1225.8,955 1234.2,959.2 1242.5,940.8 1250.8,933.8 1259.2,943.7 1267.8,943.7 1276.2,941.7 1284.5,934.2 1292.8,936.3 1301.2,928.6 1309.7,945 1318,952.5 1326.3,952.5 1334.7,953.7 1343,937.8 1351.3,940 1359.7,927.5 1368,936.7 1376.7,941.3 1385,941.3 1393.3,941 1401.7,942 1410,944.7 1418.5,932.8 1427,951.3 1435.3,964.5 1443.7,964.5 1452,964.5 1460.3,956.3 1468.7,943.3 1477.2,934.5 1485.5,941.3 1493.8,938.3 1502.2,938.3 1510.8,939.5 1519.2,935.3 1527.5,941.7 1535.8,934.2 1544.2,911.3 1552.5,920.8 1560.8,920.8 1569.2,920 1577.5,919.2 1586.2,920.5 1594.5,929 1602.8,938 1611.2,944.5 1619.5,944.5 1627.5,943 1635.8,935 1644.2,928" fill="none" stroke="#d0021b" stroke-width="3.2" stroke-linejoin="round"/>
<line x1="1653.8" x2="1653.8" y1="806.0999999999999" y2="977.5" stroke="#8a8a8c" stroke-width="2"/>
<line x1="1653.8" x2="1664.8" y1="806.8" y2="806.8" stroke="#8a8a8c" stroke-width="2"/>
<text x="1671.5" y="815.1" font-size="23.5" fill="#233142" stroke="#233142" stroke-width="0.45" textLength="34" lengthAdjust="spacingAndGlyphs">600</text>
<line x1="1653.8" x2="1664.8" y1="840.8" y2="840.8" stroke="#8a8a8c" stroke-width="2"/>
<text x="1671.5" y="849.1" font-size="23.5" fill="#233142" stroke="#233142" stroke-width="0.45" textLength="34" lengthAdjust="spacingAndGlyphs">500</text>
<line x1="1653.8" x2="1664.8" y1="874.8" y2="874.8" stroke="#8a8a8c" stroke-width="2"/>
<text x="1671.5" y="883.1" font-size="23.5" fill="#233142" stroke="#233142" stroke-width="0.45" textLength="34" lengthAdjust="spacingAndGlyphs">400</text>
<line x1="1653.8" x2="1664.8" y1="908.8" y2="908.8" stroke="#8a8a8c" stroke-width="2"/>
<text x="1671.5" y="917.1" font-size="23.5" fill="#233142" stroke="#233142" stroke-width="0.45" textLength="34" lengthAdjust="spacingAndGlyphs">300</text>
<line x1="1653.8" x2="1664.8" y1="942.8" y2="942.8" stroke="#8a8a8c" stroke-width="2"/>
<text x="1671.5" y="951.1" font-size="23.5" fill="#233142" stroke="#233142" stroke-width="0.45" textLength="34" lengthAdjust="spacingAndGlyphs">200</text>
<line x1="1653.8" x2="1664.8" y1="976.8" y2="976.8" stroke="#8a8a8c" stroke-width="2"/>
<text x="1671.5" y="985.1" font-size="23.5" fill="#233142" stroke="#233142" stroke-width="0.45" textLength="34" lengthAdjust="spacingAndGlyphs">100</text>
<line x1="355.2" x2="355.2" y1="976.8" y2="987.8" stroke="#8a8a8c" stroke-width="2"/>
<text transform="translate(361.59999999999997,1115.5) rotate(-90)" font-size="23.5" fill="#233142" stroke="#233142" stroke-width="0.4" textLength="116.6" lengthAdjust="spacingAndGlyphs">2023-Nov-01</text>
<line x1="606.6" x2="606.6" y1="976.8" y2="987.8" stroke="#8a8a8c" stroke-width="2"/>
<text transform="translate(613.0,1115.5) rotate(-90)" font-size="23.5" fill="#233142" stroke="#233142" stroke-width="0.4" textLength="116.6" lengthAdjust="spacingAndGlyphs">2023-Dec-01</text>
<line x1="866.4" x2="866.4" y1="976.8" y2="987.8" stroke="#8a8a8c" stroke-width="2"/>
<text transform="translate(872.8,1115.5) rotate(-90)" font-size="23.5" fill="#233142" stroke="#233142" stroke-width="0.4" textLength="116.6" lengthAdjust="spacingAndGlyphs">2024-Jan-01</text>
<line x1="1126.2" x2="1126.2" y1="976.8" y2="987.8" stroke="#8a8a8c" stroke-width="2"/>
<text transform="translate(1132.6000000000001,1115.5) rotate(-90)" font-size="23.5" fill="#233142" stroke="#233142" stroke-width="0.4" textLength="116.6" lengthAdjust="spacingAndGlyphs">2024-Feb-01</text>
<line x1="1369.1" x2="1369.1" y1="976.8" y2="987.8" stroke="#8a8a8c" stroke-width="2"/>
<text transform="translate(1375.5,1115.5) rotate(-90)" font-size="23.5" fill="#233142" stroke="#233142" stroke-width="0.4" textLength="116.6" lengthAdjust="spacingAndGlyphs">2024-Mar-01</text>
<line x1="1628.6" x2="1628.6" y1="976.8" y2="987.8" stroke="#8a8a8c" stroke-width="2"/>
<text transform="translate(1635.0,1115.5) rotate(-90)" font-size="23.5" fill="#233142" stroke="#233142" stroke-width="0.4" textLength="116.6" lengthAdjust="spacingAndGlyphs">2024-Apr-01</text>
<g fill="none" stroke-linejoin="miter">
<path d="M1526.4,59.8 L1536,59.8 A10.2,11.2 0 0 1 1536,82.2 L1526.4,82.2 Z" stroke="#4c5668" stroke-width="6.2"/>
<path d="M1559.8,85.3 L1559.8,69 A9,9.2 0 0 1 1577.8,69 L1577.8,85.3 M1559.8,74.5 L1577.8,74.5" stroke="#4c5668" stroke-width="6.2"/>
<rect x="1591.3" y="56.7" width="6.8" height="28.6" fill="#4c5668"/><rect x="1593.1" y="50.8" width="3.2" height="40.2" fill="#4c5668"/>
<path d="M1611.4,56.7 L1611.4,82.2 L1626.8,82.2" stroke="#4c5668" stroke-width="6.2"/>
<path d="M1634.8,56.7 L1634.8,65.3 A8.2,7.8 0 0 0 1651.2,65.3 L1651.2,56.7 M1643,73 L1643,85.3" stroke="#4c5668" stroke-width="6.2"/>
<path d="M1690,60.2 L1668,60.2 L1668,85.3 M1668,73 L1688.5,73" stroke="#ff7300" stroke-width="7"/>
</g>
<path d="M1695.3,56.7 L1704.6,56.7 L1711.3,66.2 L1718,56.7 L1727.3,56.7 L1716,71 L1727.8,85.3 L1718.4,85.3 L1711.3,75.8 L1704.2,85.3 L1694.8,85.3 L1706.6,71 Z" fill="#ff7300"/>
<text x="1589.5" y="112.5" font-size="17.5" fill="#4c5668" textLength="102.5" lengthAdjust="spacingAndGlyphs">provided by</text>
<text x="1701.3" y="117" font-size="29.5" font-weight="bold" fill="#e0131c" textLength="28.6" lengthAdjust="spacingAndGlyphs">IG</text>
<defs><filter id="ws" x="-10%" y="-10%" width="130%" height="130%"><feDropShadow dx="1.4" dy="1.6" stdDeviation="0.9" flood-color="#1c2736" flood-opacity="0.75"/></filter></defs>
<g filter="url(#ws)" fill="none" stroke="#fff" stroke-linejoin="round" stroke-linecap="butt">
<path d="M1575,1109 L1571,1120 M1568,1130 L1565,1140" stroke-width="9"/>
<path d="M1555,1160 L1569,1141 M1580,1112.5 L1618,1112.5" stroke-width="8"/>
<path d="M1592,1103 L1586,1113 M1585,1123 L1614,1123 L1604,1157.5 L1575,1157.5 Z M1566,1139.7 L1613,1139.7 M1604,1157 L1600,1162" stroke-width="7"/>
<path d="M1629,1111 L1673,1111 M1676,1107.5 L1663.5,1159 M1622,1133 L1667,1133 M1616,1147.3 L1664,1147.3" stroke-width="8"/>
<path d="M1641,1157.8 L1665,1157.8 M1635,1111 L1630,1133" stroke-width="7"/>
<path d="M1685.5,1113 L1706,1113 L1696.5,1145 L1677,1145 Z M1683,1148 L1675,1160 M1708,1117 L1740,1117 M1735,1108 L1722.5,1157" stroke-width="8"/>
<path d="M1692,1148 L1696,1159 M1712,1157 L1723,1157 M1720,1124 L1704,1157" stroke-width="7"/>
<path d="M1760,1106 L1747,1120 M1763,1118 L1746,1137 M1737,1145 L1757,1145 M1735,1157.4 L1754,1157.4 M1768,1111.5 L1795,1111.5 M1795,1108 L1783,1122 M1764,1131.5 L1790,1131.5 M1760,1141 L1791,1141 M1755,1157.4 L1787,1157.4" stroke-width="8"/>
<path d="M1740,1129 L1747,1129 M1772,1120 L1790,1135 M1778,1141 L1775,1153" stroke-width="6"/>
</g>
<text transform="translate(1564.5,1194.8) scale(1.22,1)" font-size="31" font-weight="bold" font-style="italic" fill="#8cc3ea" stroke="#8cc3ea" stroke-width="1.4" textLength="183.5" lengthAdjust="spacing">zzrt01.cn</text>
</g>
</svg></body></html>
